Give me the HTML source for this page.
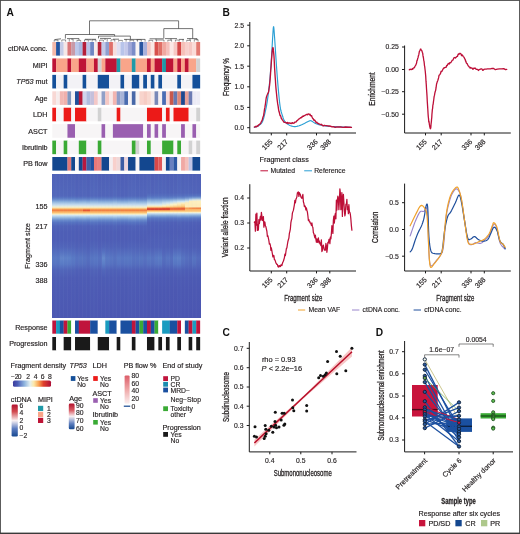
<!DOCTYPE html>
<html><head><meta charset="utf-8"><title>Figure</title>
<style>
html,body{margin:0;padding:0;background:#fff;}
body{width:520px;height:534px;overflow:hidden;font-family:"Liberation Sans",sans-serif;}
svg{display:block;will-change:transform;opacity:0.9999;font-family:"Liberation Sans",sans-serif;}
.t{font-size:7.2px;fill:#231f20;stroke:#231f20;stroke-width:0.18px;}
.s{font-size:6.8px;fill:#231f20;stroke:#231f20;stroke-width:0.15px;}
.b{font-size:10.2px;font-weight:bold;fill:#111;}
</style></head><body>
<svg width="520" height="534" viewBox="0 0 520 534">
<rect width="520" height="534" fill="#fff"/>
<g shape-rendering="auto">
<rect x="52.30" y="42.00" width="3.94" height="13.60" fill="#f4b8a8"/>
<rect x="56.09" y="42.00" width="3.94" height="13.60" fill="#2255a0"/>
<rect x="59.87" y="42.00" width="3.94" height="13.60" fill="#c5cce8"/>
<rect x="63.66" y="42.00" width="3.94" height="13.60" fill="#f5e8e8"/>
<rect x="67.45" y="42.00" width="3.94" height="13.60" fill="#d9787a"/>
<rect x="71.24" y="42.00" width="3.94" height="13.60" fill="#c89aa8"/>
<rect x="75.02" y="42.00" width="3.94" height="13.60" fill="#bcc8ea"/>
<rect x="78.81" y="42.00" width="3.94" height="13.60" fill="#a8b8e0"/>
<rect x="82.60" y="42.00" width="3.94" height="13.60" fill="#b51f3a"/>
<rect x="86.38" y="42.00" width="3.94" height="13.60" fill="#b8c4e8"/>
<rect x="90.17" y="42.00" width="3.94" height="13.60" fill="#6f86c4"/>
<rect x="93.96" y="42.00" width="3.94" height="13.60" fill="#f6ecec"/>
<rect x="97.75" y="42.00" width="3.94" height="13.60" fill="#b8243a"/>
<rect x="101.53" y="42.00" width="3.94" height="13.60" fill="#c4cae8"/>
<rect x="105.32" y="42.00" width="3.94" height="13.60" fill="#8f9fd0"/>
<rect x="109.11" y="42.00" width="3.94" height="13.60" fill="#e0706a"/>
<rect x="112.89" y="42.00" width="3.94" height="13.60" fill="#f5dede"/>
<rect x="116.68" y="42.00" width="3.94" height="13.60" fill="#e0e0f2"/>
<rect x="120.47" y="42.00" width="3.94" height="13.60" fill="#b8c4ea"/>
<rect x="124.26" y="42.00" width="3.94" height="13.60" fill="#c4c8ea"/>
<rect x="128.04" y="42.00" width="3.94" height="13.60" fill="#a0a8d8"/>
<rect x="131.83" y="42.00" width="3.94" height="13.60" fill="#7a8cc8"/>
<rect x="135.62" y="42.00" width="3.94" height="13.60" fill="#f8f4f4"/>
<rect x="139.41" y="42.00" width="3.94" height="13.60" fill="#2a55a0"/>
<rect x="143.19" y="42.00" width="3.94" height="13.60" fill="#a8b0dc"/>
<rect x="146.98" y="42.00" width="3.94" height="13.60" fill="#f4c8c4"/>
<rect x="150.77" y="42.00" width="3.94" height="13.60" fill="#fae8e4"/>
<rect x="154.55" y="42.00" width="3.94" height="13.60" fill="#d8504c"/>
<rect x="158.34" y="42.00" width="3.94" height="13.60" fill="#e07068"/>
<rect x="162.13" y="42.00" width="3.94" height="13.60" fill="#f0a8a0"/>
<rect x="165.92" y="42.00" width="3.94" height="13.60" fill="#f5c0bc"/>
<rect x="169.70" y="42.00" width="3.94" height="13.60" fill="#fbe8e6"/>
<rect x="173.49" y="42.00" width="3.94" height="13.60" fill="#f6c8c4"/>
<rect x="177.28" y="42.00" width="3.94" height="13.60" fill="#d44848"/>
<rect x="181.06" y="42.00" width="3.94" height="13.60" fill="#f6c0b8"/>
<rect x="184.85" y="42.00" width="3.94" height="13.60" fill="#f8d0cc"/>
<rect x="188.64" y="42.00" width="3.94" height="13.60" fill="#f6c8c4"/>
<rect x="192.43" y="42.00" width="3.94" height="13.60" fill="#fadcd8"/>
<rect x="196.21" y="42.00" width="3.94" height="13.60" fill="#e27870"/>
<text x="47.5" y="51.40" text-anchor="end" class="t">ctDNA conc.</text>
<rect x="52.30" y="58.43" width="3.94" height="13.60" fill="#be1436"/>
<rect x="56.09" y="58.43" width="11.51" height="13.60" fill="#f9a58a"/>
<rect x="67.45" y="58.43" width="3.94" height="13.60" fill="#be1436"/>
<rect x="71.24" y="58.43" width="7.72" height="13.60" fill="#f9a58a"/>
<rect x="78.81" y="58.43" width="7.72" height="13.60" fill="#be1436"/>
<rect x="86.38" y="58.43" width="7.72" height="13.60" fill="#f9a58a"/>
<rect x="93.96" y="58.43" width="3.94" height="13.60" fill="#be1436"/>
<rect x="97.75" y="58.43" width="3.94" height="13.60" fill="#d2d2d2"/>
<rect x="101.53" y="58.43" width="3.94" height="13.60" fill="#f9a58a"/>
<rect x="105.32" y="58.43" width="11.51" height="13.60" fill="#be1436"/>
<rect x="116.68" y="58.43" width="3.94" height="13.60" fill="#1f9aa8"/>
<rect x="120.47" y="58.43" width="11.51" height="13.60" fill="#f9a58a"/>
<rect x="131.83" y="58.43" width="3.94" height="13.60" fill="#1f9aa8"/>
<rect x="135.62" y="58.43" width="11.51" height="13.60" fill="#f9a58a"/>
<rect x="146.98" y="58.43" width="3.94" height="13.60" fill="#be1436"/>
<rect x="150.77" y="58.43" width="3.94" height="13.60" fill="#f9a58a"/>
<rect x="154.55" y="58.43" width="7.72" height="13.60" fill="#be1436"/>
<rect x="162.13" y="58.43" width="3.94" height="13.60" fill="#1f9aa8"/>
<rect x="165.92" y="58.43" width="7.72" height="13.60" fill="#be1436"/>
<rect x="173.49" y="58.43" width="3.94" height="13.60" fill="#f9a58a"/>
<rect x="177.28" y="58.43" width="3.94" height="13.60" fill="#be1436"/>
<rect x="181.06" y="58.43" width="3.94" height="13.60" fill="#f9a58a"/>
<rect x="184.85" y="58.43" width="3.94" height="13.60" fill="#be1436"/>
<rect x="188.64" y="58.43" width="7.72" height="13.60" fill="#f9a58a"/>
<rect x="196.21" y="58.43" width="3.94" height="13.60" fill="#d2d2d2"/>
<text x="47.5" y="67.83" text-anchor="end" class="t">MIPI</text>
<rect x="52.30" y="74.86" width="3.94" height="13.60" fill="#15509a"/>
<rect x="56.09" y="74.86" width="7.72" height="13.60" fill="#f3f2f6"/>
<rect x="63.66" y="74.86" width="3.94" height="13.60" fill="#15509a"/>
<rect x="67.45" y="74.86" width="15.30" height="13.60" fill="#f3f2f6"/>
<rect x="82.60" y="74.86" width="3.94" height="13.60" fill="#15509a"/>
<rect x="86.38" y="74.86" width="11.51" height="13.60" fill="#f3f2f6"/>
<rect x="97.75" y="74.86" width="11.51" height="13.60" fill="#15509a"/>
<rect x="109.11" y="74.86" width="11.51" height="13.60" fill="#f3f2f6"/>
<rect x="120.47" y="74.86" width="3.94" height="13.60" fill="#15509a"/>
<rect x="124.26" y="74.86" width="7.72" height="13.60" fill="#f3f2f6"/>
<rect x="131.83" y="74.86" width="7.72" height="13.60" fill="#15509a"/>
<rect x="139.41" y="74.86" width="3.94" height="13.60" fill="#f3f2f6"/>
<rect x="143.19" y="74.86" width="3.94" height="13.60" fill="#15509a"/>
<rect x="146.98" y="74.86" width="3.94" height="13.60" fill="#f3f2f6"/>
<rect x="150.77" y="74.86" width="3.94" height="13.60" fill="#15509a"/>
<rect x="154.55" y="74.86" width="3.94" height="13.60" fill="#f3f2f6"/>
<rect x="158.34" y="74.86" width="3.94" height="13.60" fill="#15509a"/>
<rect x="162.13" y="74.86" width="15.30" height="13.60" fill="#f3f2f6"/>
<rect x="177.28" y="74.86" width="3.94" height="13.60" fill="#15509a"/>
<rect x="181.06" y="74.86" width="11.51" height="13.60" fill="#f3f2f6"/>
<rect x="192.43" y="74.86" width="7.72" height="13.60" fill="#15509a"/>
<text x="47.5" y="84.26" text-anchor="end" class="t"><tspan font-style="italic">TP53</tspan> mut</text>
<rect x="52.30" y="91.29" width="3.94" height="13.60" fill="#f8d8d4"/>
<rect x="56.09" y="91.29" width="3.94" height="13.60" fill="#f6ecec"/>
<rect x="59.87" y="91.29" width="3.94" height="13.60" fill="#f2b8b4"/>
<rect x="63.66" y="91.29" width="3.94" height="13.60" fill="#f0b0ac"/>
<rect x="67.45" y="91.29" width="3.94" height="13.60" fill="#8098c0"/>
<rect x="71.24" y="91.29" width="3.94" height="13.60" fill="#f6f2f4"/>
<rect x="75.02" y="91.29" width="3.94" height="13.60" fill="#1f4f9a"/>
<rect x="78.81" y="91.29" width="3.94" height="13.60" fill="#b81838"/>
<rect x="82.60" y="91.29" width="3.94" height="13.60" fill="#d0d4ec"/>
<rect x="86.38" y="91.29" width="3.94" height="13.60" fill="#b0bce0"/>
<rect x="90.17" y="91.29" width="3.94" height="13.60" fill="#c4c0dc"/>
<rect x="93.96" y="91.29" width="3.94" height="13.60" fill="#f4c8c8"/>
<rect x="97.75" y="91.29" width="3.94" height="13.60" fill="#f4f0f4"/>
<rect x="101.53" y="91.29" width="3.94" height="13.60" fill="#90a0c8"/>
<rect x="105.32" y="91.29" width="3.94" height="13.60" fill="#f6c8c4"/>
<rect x="109.11" y="91.29" width="3.94" height="13.60" fill="#f8e8e8"/>
<rect x="112.89" y="91.29" width="3.94" height="13.60" fill="#f2b4b0"/>
<rect x="116.68" y="91.29" width="3.94" height="13.60" fill="#8c9cc8"/>
<rect x="120.47" y="91.29" width="3.94" height="13.60" fill="#a8b4d8"/>
<rect x="124.26" y="91.29" width="3.94" height="13.60" fill="#4a6cb0"/>
<rect x="128.04" y="91.29" width="3.94" height="13.60" fill="#f4f2f6"/>
<rect x="131.83" y="91.29" width="3.94" height="13.60" fill="#4868a8"/>
<rect x="135.62" y="91.29" width="3.94" height="13.60" fill="#f6f2f2"/>
<rect x="139.41" y="91.29" width="3.94" height="13.60" fill="#f8d4cc"/>
<rect x="143.19" y="91.29" width="3.94" height="13.60" fill="#f6ccc4"/>
<rect x="146.98" y="91.29" width="3.94" height="13.60" fill="#f8d8d0"/>
<rect x="150.77" y="91.29" width="3.94" height="13.60" fill="#f6eaea"/>
<rect x="154.55" y="91.29" width="3.94" height="13.60" fill="#7888b8"/>
<rect x="158.34" y="91.29" width="3.94" height="13.60" fill="#f6f0f2"/>
<rect x="162.13" y="91.29" width="3.94" height="13.60" fill="#4a6cb4"/>
<rect x="165.92" y="91.29" width="3.94" height="13.60" fill="#f8d8d8"/>
<rect x="169.70" y="91.29" width="3.94" height="13.60" fill="#c8584c"/>
<rect x="173.49" y="91.29" width="3.94" height="13.60" fill="#6878b0"/>
<rect x="177.28" y="91.29" width="3.94" height="13.60" fill="#e08878"/>
<rect x="181.06" y="91.29" width="3.94" height="13.60" fill="#1c4890"/>
<rect x="184.85" y="91.29" width="3.94" height="13.60" fill="#e8a098"/>
<rect x="188.64" y="91.29" width="3.94" height="13.60" fill="#6c7cb4"/>
<rect x="192.43" y="91.29" width="3.94" height="13.60" fill="#ecebf6"/>
<rect x="196.21" y="91.29" width="3.94" height="13.60" fill="#eeedf6"/>
<text x="47.5" y="100.69" text-anchor="end" class="t">Age</text>
<rect x="52.30" y="107.72" width="3.94" height="13.60" fill="#ec1a18"/>
<rect x="56.09" y="107.72" width="7.72" height="13.60" fill="#f7f5f6"/>
<rect x="63.66" y="107.72" width="7.72" height="13.60" fill="#ec1a18"/>
<rect x="71.24" y="107.72" width="3.94" height="13.60" fill="#f7f5f6"/>
<rect x="75.02" y="107.72" width="11.51" height="13.60" fill="#ec1a18"/>
<rect x="86.38" y="107.72" width="11.51" height="13.60" fill="#f7f5f6"/>
<rect x="97.75" y="107.72" width="3.94" height="13.60" fill="#d2d2d2"/>
<rect x="101.53" y="107.72" width="15.30" height="13.60" fill="#f7f5f6"/>
<rect x="116.68" y="107.72" width="3.94" height="13.60" fill="#ec1a18"/>
<rect x="120.47" y="107.72" width="26.66" height="13.60" fill="#f7f5f6"/>
<rect x="146.98" y="107.72" width="15.30" height="13.60" fill="#ec1a18"/>
<rect x="162.13" y="107.72" width="3.94" height="13.60" fill="#f7f5f6"/>
<rect x="165.92" y="107.72" width="3.94" height="13.60" fill="#ec1a18"/>
<rect x="169.70" y="107.72" width="3.94" height="13.60" fill="#f7f5f6"/>
<rect x="173.49" y="107.72" width="15.30" height="13.60" fill="#ec1a18"/>
<rect x="188.64" y="107.72" width="7.72" height="13.60" fill="#f7f5f6"/>
<rect x="196.21" y="107.72" width="3.94" height="13.60" fill="#d2d2d2"/>
<text x="47.5" y="117.12" text-anchor="end" class="t">LDH</text>
<rect x="52.30" y="124.15" width="15.30" height="13.60" fill="#f7f5f6"/>
<rect x="67.45" y="124.15" width="7.72" height="13.60" fill="#9a5fb0"/>
<rect x="75.02" y="124.15" width="26.66" height="13.60" fill="#f7f5f6"/>
<rect x="101.53" y="124.15" width="3.94" height="13.60" fill="#9a5fb0"/>
<rect x="105.32" y="124.15" width="7.72" height="13.60" fill="#f7f5f6"/>
<rect x="112.89" y="124.15" width="30.45" height="13.60" fill="#9a5fb0"/>
<rect x="143.19" y="124.15" width="3.94" height="13.60" fill="#f7f5f6"/>
<rect x="146.98" y="124.15" width="3.94" height="13.60" fill="#9a5fb0"/>
<rect x="150.77" y="124.15" width="3.94" height="13.60" fill="#f7f5f6"/>
<rect x="154.55" y="124.15" width="3.94" height="13.60" fill="#9a5fb0"/>
<rect x="158.34" y="124.15" width="3.94" height="13.60" fill="#f7f5f6"/>
<rect x="162.13" y="124.15" width="3.94" height="13.60" fill="#9a5fb0"/>
<rect x="165.92" y="124.15" width="15.30" height="13.60" fill="#f7f5f6"/>
<rect x="181.06" y="124.15" width="3.94" height="13.60" fill="#9a5fb0"/>
<rect x="184.85" y="124.15" width="7.72" height="13.60" fill="#f7f5f6"/>
<rect x="192.43" y="124.15" width="3.94" height="13.60" fill="#9a5fb0"/>
<rect x="196.21" y="124.15" width="3.94" height="13.60" fill="#f7f5f6"/>
<text x="47.5" y="133.55" text-anchor="end" class="t">ASCT</text>
<rect x="52.30" y="140.58" width="3.94" height="13.60" fill="#3aaa35"/>
<rect x="56.09" y="140.58" width="7.72" height="13.60" fill="#f7f5f6"/>
<rect x="63.66" y="140.58" width="3.94" height="13.60" fill="#3aaa35"/>
<rect x="67.45" y="140.58" width="11.51" height="13.60" fill="#f7f5f6"/>
<rect x="78.81" y="140.58" width="7.72" height="13.60" fill="#3aaa35"/>
<rect x="86.38" y="140.58" width="11.51" height="13.60" fill="#f7f5f6"/>
<rect x="97.75" y="140.58" width="3.94" height="13.60" fill="#3aaa35"/>
<rect x="101.53" y="140.58" width="30.45" height="13.60" fill="#f7f5f6"/>
<rect x="131.83" y="140.58" width="3.94" height="13.60" fill="#3aaa35"/>
<rect x="135.62" y="140.58" width="3.94" height="13.60" fill="#d2d2d2"/>
<rect x="139.41" y="140.58" width="7.72" height="13.60" fill="#f7f5f6"/>
<rect x="146.98" y="140.58" width="3.94" height="13.60" fill="#3aaa35"/>
<rect x="150.77" y="140.58" width="11.51" height="13.60" fill="#f7f5f6"/>
<rect x="162.13" y="140.58" width="11.51" height="13.60" fill="#3aaa35"/>
<rect x="173.49" y="140.58" width="3.94" height="13.60" fill="#f7f5f6"/>
<rect x="177.28" y="140.58" width="3.94" height="13.60" fill="#3aaa35"/>
<rect x="181.06" y="140.58" width="7.72" height="13.60" fill="#f7f5f6"/>
<rect x="188.64" y="140.58" width="3.94" height="13.60" fill="#d2d2d2"/>
<rect x="192.43" y="140.58" width="3.94" height="13.60" fill="#f7f5f6"/>
<rect x="196.21" y="140.58" width="3.94" height="13.60" fill="#d2d2d2"/>
<text x="47.5" y="149.98" text-anchor="end" class="t">Ibrutinib</text>
<rect x="52.30" y="157.01" width="15.30" height="13.60" fill="#13478f"/>
<rect x="67.45" y="157.01" width="3.94" height="13.60" fill="#e07878"/>
<rect x="71.24" y="157.01" width="3.94" height="13.60" fill="#13478f"/>
<rect x="75.02" y="157.01" width="3.94" height="13.60" fill="#f6f2f4"/>
<rect x="78.81" y="157.01" width="3.94" height="13.60" fill="#13478f"/>
<rect x="82.60" y="157.01" width="3.94" height="13.60" fill="#b81840"/>
<rect x="86.38" y="157.01" width="3.94" height="13.60" fill="#4060a8"/>
<rect x="90.17" y="157.01" width="3.94" height="13.60" fill="#2050a0"/>
<rect x="93.96" y="157.01" width="3.94" height="13.60" fill="#e87878"/>
<rect x="97.75" y="157.01" width="3.94" height="13.60" fill="#e88080"/>
<rect x="101.53" y="157.01" width="7.72" height="13.60" fill="#13478f"/>
<rect x="109.11" y="157.01" width="3.94" height="13.60" fill="#f4eef0"/>
<rect x="112.89" y="157.01" width="3.94" height="13.60" fill="#f8d0cc"/>
<rect x="116.68" y="157.01" width="3.94" height="13.60" fill="#f0d8d8"/>
<rect x="120.47" y="157.01" width="3.94" height="13.60" fill="#3c5ca4"/>
<rect x="124.26" y="157.01" width="3.94" height="13.60" fill="#ecd4dc"/>
<rect x="128.04" y="157.01" width="7.72" height="13.60" fill="#13478f"/>
<rect x="135.62" y="157.01" width="3.94" height="13.60" fill="#f6f4f6"/>
<rect x="139.41" y="157.01" width="15.30" height="13.60" fill="#13478f"/>
<rect x="154.55" y="157.01" width="3.94" height="13.60" fill="#d84848"/>
<rect x="158.34" y="157.01" width="3.94" height="13.60" fill="#e05858"/>
<rect x="162.13" y="157.01" width="3.94" height="13.60" fill="#f4f0f0"/>
<rect x="165.92" y="157.01" width="3.94" height="13.60" fill="#13478f"/>
<rect x="169.70" y="157.01" width="3.94" height="13.60" fill="#6880c0"/>
<rect x="173.49" y="157.01" width="3.94" height="13.60" fill="#2c58a4"/>
<rect x="177.28" y="157.01" width="3.94" height="13.60" fill="#f6f4f4"/>
<rect x="181.06" y="157.01" width="3.94" height="13.60" fill="#f0a8a4"/>
<rect x="184.85" y="157.01" width="3.94" height="13.60" fill="#f4c0bc"/>
<rect x="188.64" y="157.01" width="3.94" height="13.60" fill="#c0c4e4"/>
<rect x="192.43" y="157.01" width="7.72" height="13.60" fill="#13478f"/>
<text x="47.5" y="166.41" text-anchor="end" class="t">PB flow</text>
</g>
<defs>
<linearGradient id="hg1" x1="0" y1="173.5" x2="0" y2="317.5" gradientUnits="userSpaceOnUse">
<stop offset="0.0000" stop-color="#5063b8"/>
<stop offset="0.0799" stop-color="#5165ba"/>
<stop offset="0.1354" stop-color="#5267bb"/>
<stop offset="0.1562" stop-color="#5268bb"/>
<stop offset="0.1701" stop-color="#5877c3"/>
<stop offset="0.1840" stop-color="#6f92d0"/>
<stop offset="0.1944" stop-color="#89aedc"/>
<stop offset="0.2049" stop-color="#a6c5e5"/>
<stop offset="0.2153" stop-color="#bed7ed"/>
<stop offset="0.2257" stop-color="#dbe8e6"/>
<stop offset="0.2326" stop-color="#efeed2"/>
<stop offset="0.2396" stop-color="#fde2a7"/>
<stop offset="0.2444" stop-color="#fbbb6e"/>
<stop offset="0.2486" stop-color="#f69b53"/>
<stop offset="0.2528" stop-color="#f48c48"/>
<stop offset="0.2563" stop-color="#f07d42"/>
<stop offset="0.2604" stop-color="#f6954f"/>
<stop offset="0.2646" stop-color="#f8a95f"/>
<stop offset="0.2694" stop-color="#fbb86b"/>
<stop offset="0.2743" stop-color="#fdc878"/>
<stop offset="0.2799" stop-color="#fde5ad"/>
<stop offset="0.2854" stop-color="#ededd4"/>
<stop offset="0.2917" stop-color="#cce2f1"/>
<stop offset="0.2986" stop-color="#b4d0ea"/>
<stop offset="0.3090" stop-color="#8db2dd"/>
<stop offset="0.3229" stop-color="#6b8ece"/>
<stop offset="0.3403" stop-color="#5774c2"/>
<stop offset="0.3646" stop-color="#5064b9"/>
<stop offset="0.4062" stop-color="#4e5eb6"/>
<stop offset="0.4618" stop-color="#4e5eb6"/>
<stop offset="0.5104" stop-color="#5165ba"/>
<stop offset="0.5451" stop-color="#546ebe"/>
<stop offset="0.5868" stop-color="#5979c4"/>
<stop offset="0.6285" stop-color="#5774c2"/>
<stop offset="0.6701" stop-color="#5063b9"/>
<stop offset="0.7257" stop-color="#4e5db5"/>
<stop offset="0.8090" stop-color="#4d5bb4"/>
<stop offset="1.0000" stop-color="#4c58b2"/>
</linearGradient>
<linearGradient id="hg2" x1="0" y1="173.5" x2="0" y2="317.5" gradientUnits="userSpaceOnUse">
<stop offset="0.0000" stop-color="#5062b8"/>
<stop offset="0.0799" stop-color="#5165ba"/>
<stop offset="0.1354" stop-color="#5267bb"/>
<stop offset="0.1562" stop-color="#5267bb"/>
<stop offset="0.1701" stop-color="#5876c3"/>
<stop offset="0.1840" stop-color="#6e92cf"/>
<stop offset="0.1944" stop-color="#89aedb"/>
<stop offset="0.2049" stop-color="#a5c4e5"/>
<stop offset="0.2153" stop-color="#bed7ed"/>
<stop offset="0.2257" stop-color="#dbe8e6"/>
<stop offset="0.2326" stop-color="#efeed2"/>
<stop offset="0.2396" stop-color="#fde2a7"/>
<stop offset="0.2444" stop-color="#fbbb6e"/>
<stop offset="0.2486" stop-color="#f69b53"/>
<stop offset="0.2528" stop-color="#f48c48"/>
<stop offset="0.2563" stop-color="#f07d42"/>
<stop offset="0.2604" stop-color="#f6954f"/>
<stop offset="0.2646" stop-color="#f8a95f"/>
<stop offset="0.2694" stop-color="#fbb86b"/>
<stop offset="0.2743" stop-color="#fdc878"/>
<stop offset="0.2799" stop-color="#fde5ad"/>
<stop offset="0.2854" stop-color="#ededd4"/>
<stop offset="0.2917" stop-color="#cce2f1"/>
<stop offset="0.2986" stop-color="#b3cfe9"/>
<stop offset="0.3090" stop-color="#8db2dd"/>
<stop offset="0.3229" stop-color="#6a8dcd"/>
<stop offset="0.3403" stop-color="#5774c1"/>
<stop offset="0.3646" stop-color="#5063b9"/>
<stop offset="0.4062" stop-color="#4e5eb6"/>
<stop offset="0.4618" stop-color="#4e5eb6"/>
<stop offset="0.5104" stop-color="#5164b9"/>
<stop offset="0.5451" stop-color="#546dbe"/>
<stop offset="0.5868" stop-color="#5878c4"/>
<stop offset="0.6285" stop-color="#5673c1"/>
<stop offset="0.6701" stop-color="#5063b8"/>
<stop offset="0.7257" stop-color="#4e5db5"/>
<stop offset="0.8090" stop-color="#4d5bb4"/>
<stop offset="1.0000" stop-color="#4c58b2"/>
</linearGradient>
<linearGradient id="hg3" x1="0" y1="173.5" x2="0" y2="317.5" gradientUnits="userSpaceOnUse">
<stop offset="0.0000" stop-color="#5062b8"/>
<stop offset="0.0799" stop-color="#5164b9"/>
<stop offset="0.1354" stop-color="#5166ba"/>
<stop offset="0.1562" stop-color="#5267bb"/>
<stop offset="0.1701" stop-color="#5876c3"/>
<stop offset="0.1840" stop-color="#6d91cf"/>
<stop offset="0.1944" stop-color="#88addb"/>
<stop offset="0.2049" stop-color="#a4c4e5"/>
<stop offset="0.2153" stop-color="#bed7ed"/>
<stop offset="0.2257" stop-color="#dbe8e6"/>
<stop offset="0.2326" stop-color="#efeed2"/>
<stop offset="0.2396" stop-color="#fde2a7"/>
<stop offset="0.2444" stop-color="#fbbb6e"/>
<stop offset="0.2486" stop-color="#f69b53"/>
<stop offset="0.2528" stop-color="#f48c48"/>
<stop offset="0.2563" stop-color="#f07d42"/>
<stop offset="0.2604" stop-color="#f6954f"/>
<stop offset="0.2646" stop-color="#f8a95f"/>
<stop offset="0.2694" stop-color="#fbb86b"/>
<stop offset="0.2743" stop-color="#fdc878"/>
<stop offset="0.2799" stop-color="#fde5ad"/>
<stop offset="0.2854" stop-color="#ededd4"/>
<stop offset="0.2917" stop-color="#cce2f1"/>
<stop offset="0.2986" stop-color="#b2cfe9"/>
<stop offset="0.3090" stop-color="#8cb0dc"/>
<stop offset="0.3229" stop-color="#698ccd"/>
<stop offset="0.3403" stop-color="#5673c1"/>
<stop offset="0.3646" stop-color="#5063b8"/>
<stop offset="0.4062" stop-color="#4e5eb6"/>
<stop offset="0.4618" stop-color="#4e5eb6"/>
<stop offset="0.5104" stop-color="#5165ba"/>
<stop offset="0.5451" stop-color="#5671c0"/>
<stop offset="0.5868" stop-color="#6183c9"/>
<stop offset="0.6285" stop-color="#597ac5"/>
<stop offset="0.6701" stop-color="#5166ba"/>
<stop offset="0.7257" stop-color="#4e5db5"/>
<stop offset="0.8090" stop-color="#4d5bb4"/>
<stop offset="1.0000" stop-color="#4c58b2"/>
</linearGradient>
<linearGradient id="hg4" x1="0" y1="173.5" x2="0" y2="317.5" gradientUnits="userSpaceOnUse">
<stop offset="0.0000" stop-color="#5062b8"/>
<stop offset="0.0799" stop-color="#5164b9"/>
<stop offset="0.1354" stop-color="#5166ba"/>
<stop offset="0.1562" stop-color="#5267bb"/>
<stop offset="0.1701" stop-color="#5876c3"/>
<stop offset="0.1840" stop-color="#6e91cf"/>
<stop offset="0.1944" stop-color="#88addb"/>
<stop offset="0.2049" stop-color="#a4c4e5"/>
<stop offset="0.2153" stop-color="#bed7ed"/>
<stop offset="0.2257" stop-color="#dbe8e6"/>
<stop offset="0.2326" stop-color="#efeed2"/>
<stop offset="0.2396" stop-color="#fde2a7"/>
<stop offset="0.2444" stop-color="#fbbb6e"/>
<stop offset="0.2486" stop-color="#f69b53"/>
<stop offset="0.2528" stop-color="#f48c48"/>
<stop offset="0.2563" stop-color="#f07d42"/>
<stop offset="0.2604" stop-color="#f6954f"/>
<stop offset="0.2646" stop-color="#f8a95f"/>
<stop offset="0.2694" stop-color="#fbb86b"/>
<stop offset="0.2743" stop-color="#fdc878"/>
<stop offset="0.2799" stop-color="#fde5ad"/>
<stop offset="0.2854" stop-color="#ededd4"/>
<stop offset="0.2917" stop-color="#cce2f1"/>
<stop offset="0.2986" stop-color="#b2cfe9"/>
<stop offset="0.3090" stop-color="#8cb1dd"/>
<stop offset="0.3229" stop-color="#6a8ccd"/>
<stop offset="0.3403" stop-color="#5673c1"/>
<stop offset="0.3646" stop-color="#5063b8"/>
<stop offset="0.4062" stop-color="#4e5eb6"/>
<stop offset="0.4618" stop-color="#4e5eb6"/>
<stop offset="0.5104" stop-color="#5165ba"/>
<stop offset="0.5451" stop-color="#5570c0"/>
<stop offset="0.5868" stop-color="#5e80c8"/>
<stop offset="0.6285" stop-color="#5979c4"/>
<stop offset="0.6701" stop-color="#5165ba"/>
<stop offset="0.7257" stop-color="#4e5db5"/>
<stop offset="0.8090" stop-color="#4d5bb4"/>
<stop offset="1.0000" stop-color="#4c58b2"/>
</linearGradient>
<linearGradient id="hg5" x1="0" y1="173.5" x2="0" y2="317.5" gradientUnits="userSpaceOnUse">
<stop offset="0.0000" stop-color="#4f61b8"/>
<stop offset="0.0799" stop-color="#5064b9"/>
<stop offset="0.1354" stop-color="#5165ba"/>
<stop offset="0.1562" stop-color="#5166ba"/>
<stop offset="0.1701" stop-color="#5775c2"/>
<stop offset="0.1840" stop-color="#6c8fce"/>
<stop offset="0.1944" stop-color="#87abda"/>
<stop offset="0.2049" stop-color="#a2c3e4"/>
<stop offset="0.2153" stop-color="#bed7ed"/>
<stop offset="0.2257" stop-color="#dbe8e6"/>
<stop offset="0.2326" stop-color="#efeed2"/>
<stop offset="0.2396" stop-color="#fde2a7"/>
<stop offset="0.2444" stop-color="#fbbb6e"/>
<stop offset="0.2486" stop-color="#f69b53"/>
<stop offset="0.2528" stop-color="#f48c48"/>
<stop offset="0.2563" stop-color="#f07d42"/>
<stop offset="0.2604" stop-color="#f6954f"/>
<stop offset="0.2646" stop-color="#f8a95f"/>
<stop offset="0.2694" stop-color="#fbb86b"/>
<stop offset="0.2743" stop-color="#fdc878"/>
<stop offset="0.2799" stop-color="#fde5ad"/>
<stop offset="0.2854" stop-color="#ededd4"/>
<stop offset="0.2917" stop-color="#cce2f1"/>
<stop offset="0.2986" stop-color="#b1cee9"/>
<stop offset="0.3090" stop-color="#8aafdc"/>
<stop offset="0.3229" stop-color="#688bcc"/>
<stop offset="0.3403" stop-color="#5672c1"/>
<stop offset="0.3646" stop-color="#5062b8"/>
<stop offset="0.4062" stop-color="#4e5eb6"/>
<stop offset="0.4618" stop-color="#4e5eb6"/>
<stop offset="0.5104" stop-color="#5164b9"/>
<stop offset="0.5451" stop-color="#5570bf"/>
<stop offset="0.5868" stop-color="#5d80c8"/>
<stop offset="0.6285" stop-color="#5978c4"/>
<stop offset="0.6701" stop-color="#5164b9"/>
<stop offset="0.7257" stop-color="#4e5cb5"/>
<stop offset="0.8090" stop-color="#4d5ab4"/>
<stop offset="1.0000" stop-color="#4c58b2"/>
</linearGradient>
<linearGradient id="hg6" x1="0" y1="173.5" x2="0" y2="317.5" gradientUnits="userSpaceOnUse">
<stop offset="0.0000" stop-color="#5062b8"/>
<stop offset="0.0799" stop-color="#5164b9"/>
<stop offset="0.1354" stop-color="#5166ba"/>
<stop offset="0.1562" stop-color="#5267bb"/>
<stop offset="0.1701" stop-color="#5776c3"/>
<stop offset="0.1840" stop-color="#6d90cf"/>
<stop offset="0.1944" stop-color="#88acdb"/>
<stop offset="0.2049" stop-color="#a4c3e4"/>
<stop offset="0.2153" stop-color="#bed7ed"/>
<stop offset="0.2257" stop-color="#dbe8e6"/>
<stop offset="0.2326" stop-color="#efeed2"/>
<stop offset="0.2396" stop-color="#fde2a7"/>
<stop offset="0.2444" stop-color="#fbbb6e"/>
<stop offset="0.2486" stop-color="#f69b53"/>
<stop offset="0.2528" stop-color="#f48c48"/>
<stop offset="0.2563" stop-color="#f07d42"/>
<stop offset="0.2604" stop-color="#f6954f"/>
<stop offset="0.2646" stop-color="#f8a95f"/>
<stop offset="0.2694" stop-color="#fbb86b"/>
<stop offset="0.2743" stop-color="#fdc878"/>
<stop offset="0.2799" stop-color="#fde5ad"/>
<stop offset="0.2854" stop-color="#ededd4"/>
<stop offset="0.2917" stop-color="#cce2f1"/>
<stop offset="0.2986" stop-color="#b2cee9"/>
<stop offset="0.3090" stop-color="#8bb0dc"/>
<stop offset="0.3229" stop-color="#698ccd"/>
<stop offset="0.3403" stop-color="#5673c1"/>
<stop offset="0.3646" stop-color="#5062b8"/>
<stop offset="0.4062" stop-color="#4e5eb6"/>
<stop offset="0.4618" stop-color="#4e5eb6"/>
<stop offset="0.5104" stop-color="#5164b9"/>
<stop offset="0.5451" stop-color="#546dbe"/>
<stop offset="0.5868" stop-color="#5979c4"/>
<stop offset="0.6285" stop-color="#5774c2"/>
<stop offset="0.6701" stop-color="#5063b8"/>
<stop offset="0.7257" stop-color="#4e5cb5"/>
<stop offset="0.8090" stop-color="#4d5bb4"/>
<stop offset="1.0000" stop-color="#4c58b2"/>
</linearGradient>
<linearGradient id="hg7" x1="0" y1="173.5" x2="0" y2="317.5" gradientUnits="userSpaceOnUse">
<stop offset="0.0000" stop-color="#4f60b7"/>
<stop offset="0.0799" stop-color="#5062b8"/>
<stop offset="0.1354" stop-color="#5063b9"/>
<stop offset="0.1562" stop-color="#5164b9"/>
<stop offset="0.1701" stop-color="#5673c1"/>
<stop offset="0.1840" stop-color="#698ccd"/>
<stop offset="0.1944" stop-color="#83a8d9"/>
<stop offset="0.2049" stop-color="#9fc0e3"/>
<stop offset="0.2153" stop-color="#bed7ed"/>
<stop offset="0.2257" stop-color="#dbe8e6"/>
<stop offset="0.2326" stop-color="#efeed2"/>
<stop offset="0.2396" stop-color="#fde2a7"/>
<stop offset="0.2444" stop-color="#fbbb6e"/>
<stop offset="0.2486" stop-color="#f69b53"/>
<stop offset="0.2528" stop-color="#f48c48"/>
<stop offset="0.2563" stop-color="#f07d42"/>
<stop offset="0.2604" stop-color="#f6954f"/>
<stop offset="0.2646" stop-color="#f8a95f"/>
<stop offset="0.2694" stop-color="#fbb86b"/>
<stop offset="0.2743" stop-color="#fdc878"/>
<stop offset="0.2799" stop-color="#fde5ad"/>
<stop offset="0.2854" stop-color="#ededd4"/>
<stop offset="0.2917" stop-color="#cce2f1"/>
<stop offset="0.2986" stop-color="#adcbe8"/>
<stop offset="0.3090" stop-color="#87acda"/>
<stop offset="0.3229" stop-color="#6588cb"/>
<stop offset="0.3403" stop-color="#5570c0"/>
<stop offset="0.3646" stop-color="#4f60b7"/>
<stop offset="0.4062" stop-color="#4e5db5"/>
<stop offset="0.4618" stop-color="#4e5db5"/>
<stop offset="0.5104" stop-color="#4f61b7"/>
<stop offset="0.5451" stop-color="#5269bc"/>
<stop offset="0.5868" stop-color="#5673c1"/>
<stop offset="0.6285" stop-color="#556ebf"/>
<stop offset="0.6701" stop-color="#4f60b7"/>
<stop offset="0.7257" stop-color="#4d5bb4"/>
<stop offset="0.8090" stop-color="#4c5ab3"/>
<stop offset="1.0000" stop-color="#4b57b1"/>
</linearGradient>
<linearGradient id="hg8" x1="0" y1="173.5" x2="0" y2="317.5" gradientUnits="userSpaceOnUse">
<stop offset="0.0000" stop-color="#4f61b7"/>
<stop offset="0.0799" stop-color="#5063b9"/>
<stop offset="0.1354" stop-color="#5165ba"/>
<stop offset="0.1562" stop-color="#5165ba"/>
<stop offset="0.1701" stop-color="#5774c2"/>
<stop offset="0.1840" stop-color="#6b8ece"/>
<stop offset="0.1944" stop-color="#86aada"/>
<stop offset="0.2049" stop-color="#a2c2e4"/>
<stop offset="0.2153" stop-color="#bed7ed"/>
<stop offset="0.2257" stop-color="#dbe8e6"/>
<stop offset="0.2326" stop-color="#efeed2"/>
<stop offset="0.2396" stop-color="#fde2a7"/>
<stop offset="0.2444" stop-color="#fbbb6e"/>
<stop offset="0.2486" stop-color="#f69b53"/>
<stop offset="0.2528" stop-color="#f48c48"/>
<stop offset="0.2563" stop-color="#f07d42"/>
<stop offset="0.2604" stop-color="#f6954f"/>
<stop offset="0.2646" stop-color="#f8a95f"/>
<stop offset="0.2694" stop-color="#fbb86b"/>
<stop offset="0.2743" stop-color="#fdc878"/>
<stop offset="0.2799" stop-color="#fde5ad"/>
<stop offset="0.2854" stop-color="#ededd4"/>
<stop offset="0.2917" stop-color="#cce2f1"/>
<stop offset="0.2986" stop-color="#b0cde8"/>
<stop offset="0.3090" stop-color="#8aaedc"/>
<stop offset="0.3229" stop-color="#688acc"/>
<stop offset="0.3403" stop-color="#5672c0"/>
<stop offset="0.3646" stop-color="#5061b8"/>
<stop offset="0.4062" stop-color="#4e5eb6"/>
<stop offset="0.4618" stop-color="#4e5db5"/>
<stop offset="0.5104" stop-color="#5062b8"/>
<stop offset="0.5451" stop-color="#536abc"/>
<stop offset="0.5868" stop-color="#5775c2"/>
<stop offset="0.6285" stop-color="#5570bf"/>
<stop offset="0.6701" stop-color="#4f60b7"/>
<stop offset="0.7257" stop-color="#4d5cb5"/>
<stop offset="0.8090" stop-color="#4d5ab4"/>
<stop offset="1.0000" stop-color="#4c57b2"/>
</linearGradient>
<linearGradient id="hg9" x1="0" y1="173.5" x2="0" y2="317.5" gradientUnits="userSpaceOnUse">
<stop offset="0.0000" stop-color="#5062b8"/>
<stop offset="0.0799" stop-color="#5165b9"/>
<stop offset="0.1354" stop-color="#5266ba"/>
<stop offset="0.1562" stop-color="#5267bb"/>
<stop offset="0.1701" stop-color="#5876c3"/>
<stop offset="0.1840" stop-color="#6e91cf"/>
<stop offset="0.1944" stop-color="#88addb"/>
<stop offset="0.2049" stop-color="#a4c4e5"/>
<stop offset="0.2153" stop-color="#bed7ed"/>
<stop offset="0.2257" stop-color="#dbe8e6"/>
<stop offset="0.2326" stop-color="#efeed2"/>
<stop offset="0.2396" stop-color="#fde2a7"/>
<stop offset="0.2444" stop-color="#fab468"/>
<stop offset="0.2486" stop-color="#f48a46"/>
<stop offset="0.2528" stop-color="#ea6a3b"/>
<stop offset="0.2563" stop-color="#e24f32"/>
<stop offset="0.2604" stop-color="#ef7840"/>
<stop offset="0.2646" stop-color="#f69a53"/>
<stop offset="0.2694" stop-color="#fab468"/>
<stop offset="0.2743" stop-color="#fdc878"/>
<stop offset="0.2799" stop-color="#fde5ad"/>
<stop offset="0.2854" stop-color="#ededd4"/>
<stop offset="0.2917" stop-color="#cce2f1"/>
<stop offset="0.2986" stop-color="#b3cfe9"/>
<stop offset="0.3090" stop-color="#8cb1dd"/>
<stop offset="0.3229" stop-color="#6a8dcd"/>
<stop offset="0.3403" stop-color="#5773c1"/>
<stop offset="0.3646" stop-color="#5063b9"/>
<stop offset="0.4062" stop-color="#4e5eb6"/>
<stop offset="0.4618" stop-color="#4e5eb6"/>
<stop offset="0.5104" stop-color="#5063b9"/>
<stop offset="0.5451" stop-color="#536abc"/>
<stop offset="0.5868" stop-color="#5773c1"/>
<stop offset="0.6285" stop-color="#556fbf"/>
<stop offset="0.6701" stop-color="#4f61b7"/>
<stop offset="0.7257" stop-color="#4e5cb5"/>
<stop offset="0.8090" stop-color="#4d5bb4"/>
<stop offset="1.0000" stop-color="#4c58b2"/>
</linearGradient>
<linearGradient id="hg10" x1="0" y1="173.5" x2="0" y2="317.5" gradientUnits="userSpaceOnUse">
<stop offset="0.0000" stop-color="#4f60b7"/>
<stop offset="0.0799" stop-color="#5062b8"/>
<stop offset="0.1354" stop-color="#5064b9"/>
<stop offset="0.1562" stop-color="#5164b9"/>
<stop offset="0.1701" stop-color="#5773c1"/>
<stop offset="0.1840" stop-color="#6a8ccd"/>
<stop offset="0.1944" stop-color="#84a8d9"/>
<stop offset="0.2049" stop-color="#9fc0e3"/>
<stop offset="0.2153" stop-color="#bed7ed"/>
<stop offset="0.2257" stop-color="#dbe8e6"/>
<stop offset="0.2326" stop-color="#efeed2"/>
<stop offset="0.2396" stop-color="#fde2a7"/>
<stop offset="0.2444" stop-color="#fab468"/>
<stop offset="0.2486" stop-color="#f48a46"/>
<stop offset="0.2528" stop-color="#ea6a3b"/>
<stop offset="0.2563" stop-color="#e24f32"/>
<stop offset="0.2604" stop-color="#ef7840"/>
<stop offset="0.2646" stop-color="#f69a53"/>
<stop offset="0.2694" stop-color="#fab468"/>
<stop offset="0.2743" stop-color="#fdc878"/>
<stop offset="0.2799" stop-color="#fde5ad"/>
<stop offset="0.2854" stop-color="#ededd4"/>
<stop offset="0.2917" stop-color="#cce2f1"/>
<stop offset="0.2986" stop-color="#aecbe8"/>
<stop offset="0.3090" stop-color="#88acdb"/>
<stop offset="0.3229" stop-color="#6688cb"/>
<stop offset="0.3403" stop-color="#5570c0"/>
<stop offset="0.3646" stop-color="#4f60b7"/>
<stop offset="0.4062" stop-color="#4e5db5"/>
<stop offset="0.4618" stop-color="#4e5db5"/>
<stop offset="0.5104" stop-color="#4f60b7"/>
<stop offset="0.5451" stop-color="#5166ba"/>
<stop offset="0.5868" stop-color="#546ebe"/>
<stop offset="0.6285" stop-color="#536abc"/>
<stop offset="0.6701" stop-color="#4f5fb6"/>
<stop offset="0.7257" stop-color="#4d5bb4"/>
<stop offset="0.8090" stop-color="#4d5ab3"/>
<stop offset="1.0000" stop-color="#4b57b2"/>
</linearGradient>
<linearGradient id="hg11" x1="0" y1="173.5" x2="0" y2="317.5" gradientUnits="userSpaceOnUse">
<stop offset="0.0000" stop-color="#5063b8"/>
<stop offset="0.0799" stop-color="#5165ba"/>
<stop offset="0.1354" stop-color="#5267bb"/>
<stop offset="0.1562" stop-color="#5267bb"/>
<stop offset="0.1701" stop-color="#5876c3"/>
<stop offset="0.1840" stop-color="#6f92cf"/>
<stop offset="0.1944" stop-color="#89aedb"/>
<stop offset="0.2049" stop-color="#a5c5e5"/>
<stop offset="0.2153" stop-color="#bed7ed"/>
<stop offset="0.2257" stop-color="#dbe8e6"/>
<stop offset="0.2326" stop-color="#efeed2"/>
<stop offset="0.2396" stop-color="#fde2a7"/>
<stop offset="0.2444" stop-color="#fbbb6e"/>
<stop offset="0.2486" stop-color="#f69b53"/>
<stop offset="0.2528" stop-color="#f48c48"/>
<stop offset="0.2563" stop-color="#f07d42"/>
<stop offset="0.2604" stop-color="#f6954f"/>
<stop offset="0.2646" stop-color="#f8a95f"/>
<stop offset="0.2694" stop-color="#fbb86b"/>
<stop offset="0.2743" stop-color="#fdc878"/>
<stop offset="0.2799" stop-color="#fde5ad"/>
<stop offset="0.2854" stop-color="#ededd4"/>
<stop offset="0.2917" stop-color="#cce2f1"/>
<stop offset="0.2986" stop-color="#b4d0e9"/>
<stop offset="0.3090" stop-color="#8db2dd"/>
<stop offset="0.3229" stop-color="#6b8ece"/>
<stop offset="0.3403" stop-color="#5774c2"/>
<stop offset="0.3646" stop-color="#5063b9"/>
<stop offset="0.4062" stop-color="#4e5eb6"/>
<stop offset="0.4618" stop-color="#4e5eb6"/>
<stop offset="0.5104" stop-color="#5064b9"/>
<stop offset="0.5451" stop-color="#536bbd"/>
<stop offset="0.5868" stop-color="#5775c2"/>
<stop offset="0.6285" stop-color="#5570c0"/>
<stop offset="0.6701" stop-color="#5062b8"/>
<stop offset="0.7257" stop-color="#4e5db5"/>
<stop offset="0.8090" stop-color="#4d5bb4"/>
<stop offset="1.0000" stop-color="#4c58b2"/>
</linearGradient>
<linearGradient id="hg12" x1="0" y1="173.5" x2="0" y2="317.5" gradientUnits="userSpaceOnUse">
<stop offset="0.0000" stop-color="#5062b8"/>
<stop offset="0.0799" stop-color="#5165ba"/>
<stop offset="0.1354" stop-color="#5267bb"/>
<stop offset="0.1562" stop-color="#5267bb"/>
<stop offset="0.1701" stop-color="#5876c3"/>
<stop offset="0.1840" stop-color="#6e92cf"/>
<stop offset="0.1944" stop-color="#89aedb"/>
<stop offset="0.2049" stop-color="#a5c4e5"/>
<stop offset="0.2153" stop-color="#bed7ed"/>
<stop offset="0.2257" stop-color="#dbe8e6"/>
<stop offset="0.2326" stop-color="#efeed2"/>
<stop offset="0.2396" stop-color="#fde2a7"/>
<stop offset="0.2444" stop-color="#fbbb6e"/>
<stop offset="0.2486" stop-color="#f69b53"/>
<stop offset="0.2528" stop-color="#f48c48"/>
<stop offset="0.2563" stop-color="#f07d42"/>
<stop offset="0.2604" stop-color="#f6954f"/>
<stop offset="0.2646" stop-color="#f8a95f"/>
<stop offset="0.2694" stop-color="#fbb86b"/>
<stop offset="0.2743" stop-color="#fdc878"/>
<stop offset="0.2799" stop-color="#fde5ad"/>
<stop offset="0.2854" stop-color="#ededd4"/>
<stop offset="0.2917" stop-color="#cce2f1"/>
<stop offset="0.2986" stop-color="#b3cfe9"/>
<stop offset="0.3090" stop-color="#8db1dd"/>
<stop offset="0.3229" stop-color="#6a8dcd"/>
<stop offset="0.3403" stop-color="#5774c1"/>
<stop offset="0.3646" stop-color="#5063b9"/>
<stop offset="0.4062" stop-color="#4e5eb6"/>
<stop offset="0.4618" stop-color="#4e5eb6"/>
<stop offset="0.5104" stop-color="#5164b9"/>
<stop offset="0.5451" stop-color="#546dbe"/>
<stop offset="0.5868" stop-color="#5877c3"/>
<stop offset="0.6285" stop-color="#5672c1"/>
<stop offset="0.6701" stop-color="#5063b8"/>
<stop offset="0.7257" stop-color="#4e5db5"/>
<stop offset="0.8090" stop-color="#4d5bb4"/>
<stop offset="1.0000" stop-color="#4c58b2"/>
</linearGradient>
<linearGradient id="hg13" x1="0" y1="173.5" x2="0" y2="317.5" gradientUnits="userSpaceOnUse">
<stop offset="0.0000" stop-color="#4f60b7"/>
<stop offset="0.0799" stop-color="#5063b8"/>
<stop offset="0.1354" stop-color="#5165b9"/>
<stop offset="0.1562" stop-color="#5165ba"/>
<stop offset="0.1701" stop-color="#5774c2"/>
<stop offset="0.1840" stop-color="#6b8ece"/>
<stop offset="0.1944" stop-color="#86aada"/>
<stop offset="0.2049" stop-color="#a1c2e4"/>
<stop offset="0.2153" stop-color="#bed7ed"/>
<stop offset="0.2257" stop-color="#dbe8e6"/>
<stop offset="0.2326" stop-color="#efeed2"/>
<stop offset="0.2396" stop-color="#fde2a7"/>
<stop offset="0.2444" stop-color="#fbbb6e"/>
<stop offset="0.2486" stop-color="#f69b53"/>
<stop offset="0.2528" stop-color="#f48c48"/>
<stop offset="0.2563" stop-color="#f07d42"/>
<stop offset="0.2604" stop-color="#f6954f"/>
<stop offset="0.2646" stop-color="#f8a95f"/>
<stop offset="0.2694" stop-color="#fbb86b"/>
<stop offset="0.2743" stop-color="#fdc878"/>
<stop offset="0.2799" stop-color="#fde5ad"/>
<stop offset="0.2854" stop-color="#ededd4"/>
<stop offset="0.2917" stop-color="#cce2f1"/>
<stop offset="0.2986" stop-color="#b0cde8"/>
<stop offset="0.3090" stop-color="#89aedb"/>
<stop offset="0.3229" stop-color="#678acc"/>
<stop offset="0.3403" stop-color="#5671c0"/>
<stop offset="0.3646" stop-color="#4f61b8"/>
<stop offset="0.4062" stop-color="#4e5db5"/>
<stop offset="0.4618" stop-color="#4e5db5"/>
<stop offset="0.5104" stop-color="#5061b8"/>
<stop offset="0.5451" stop-color="#5269bc"/>
<stop offset="0.5868" stop-color="#5672c1"/>
<stop offset="0.6285" stop-color="#546dbe"/>
<stop offset="0.6701" stop-color="#4f60b7"/>
<stop offset="0.7257" stop-color="#4d5cb4"/>
<stop offset="0.8090" stop-color="#4d5ab4"/>
<stop offset="1.0000" stop-color="#4b57b2"/>
</linearGradient>
<linearGradient id="hg14" x1="0" y1="173.5" x2="0" y2="317.5" gradientUnits="userSpaceOnUse">
<stop offset="0.0000" stop-color="#4f60b7"/>
<stop offset="0.0799" stop-color="#5063b8"/>
<stop offset="0.1354" stop-color="#5164b9"/>
<stop offset="0.1562" stop-color="#5165ba"/>
<stop offset="0.1701" stop-color="#5774c2"/>
<stop offset="0.1840" stop-color="#6b8ece"/>
<stop offset="0.1944" stop-color="#85aada"/>
<stop offset="0.2049" stop-color="#a1c1e4"/>
<stop offset="0.2153" stop-color="#bed7ed"/>
<stop offset="0.2257" stop-color="#dbe8e6"/>
<stop offset="0.2326" stop-color="#efeed2"/>
<stop offset="0.2396" stop-color="#fde2a7"/>
<stop offset="0.2444" stop-color="#fbbb6e"/>
<stop offset="0.2486" stop-color="#f69b53"/>
<stop offset="0.2528" stop-color="#f48c48"/>
<stop offset="0.2563" stop-color="#f07d42"/>
<stop offset="0.2604" stop-color="#f6954f"/>
<stop offset="0.2646" stop-color="#f8a95f"/>
<stop offset="0.2694" stop-color="#fbb86b"/>
<stop offset="0.2743" stop-color="#fdc878"/>
<stop offset="0.2799" stop-color="#fde5ad"/>
<stop offset="0.2854" stop-color="#ededd4"/>
<stop offset="0.2917" stop-color="#cce2f1"/>
<stop offset="0.2986" stop-color="#afcce8"/>
<stop offset="0.3090" stop-color="#89aedb"/>
<stop offset="0.3229" stop-color="#6789cc"/>
<stop offset="0.3403" stop-color="#5671c0"/>
<stop offset="0.3646" stop-color="#4f61b7"/>
<stop offset="0.4062" stop-color="#4e5db5"/>
<stop offset="0.4618" stop-color="#4e5db5"/>
<stop offset="0.5104" stop-color="#5164b9"/>
<stop offset="0.5451" stop-color="#5672c1"/>
<stop offset="0.5868" stop-color="#6588cb"/>
<stop offset="0.6285" stop-color="#5b7dc6"/>
<stop offset="0.6701" stop-color="#5166ba"/>
<stop offset="0.7257" stop-color="#4d5cb5"/>
<stop offset="0.8090" stop-color="#4d5ab3"/>
<stop offset="1.0000" stop-color="#4b57b2"/>
</linearGradient>
<linearGradient id="hg15" x1="0" y1="173.5" x2="0" y2="317.5" gradientUnits="userSpaceOnUse">
<stop offset="0.0000" stop-color="#4f60b7"/>
<stop offset="0.0799" stop-color="#5063b9"/>
<stop offset="0.1354" stop-color="#5165ba"/>
<stop offset="0.1562" stop-color="#5165ba"/>
<stop offset="0.1701" stop-color="#5774c2"/>
<stop offset="0.1840" stop-color="#6b8ece"/>
<stop offset="0.1944" stop-color="#86aada"/>
<stop offset="0.2049" stop-color="#a1c2e4"/>
<stop offset="0.2153" stop-color="#bed7ed"/>
<stop offset="0.2257" stop-color="#dbe8e6"/>
<stop offset="0.2326" stop-color="#efeed2"/>
<stop offset="0.2396" stop-color="#fde2a7"/>
<stop offset="0.2444" stop-color="#fbbb6e"/>
<stop offset="0.2486" stop-color="#f69b53"/>
<stop offset="0.2528" stop-color="#f48c48"/>
<stop offset="0.2563" stop-color="#f07d42"/>
<stop offset="0.2604" stop-color="#f6954f"/>
<stop offset="0.2646" stop-color="#f8a95f"/>
<stop offset="0.2694" stop-color="#fbb86b"/>
<stop offset="0.2743" stop-color="#fdc878"/>
<stop offset="0.2799" stop-color="#fde5ad"/>
<stop offset="0.2854" stop-color="#ededd4"/>
<stop offset="0.2917" stop-color="#cce2f1"/>
<stop offset="0.2986" stop-color="#b0cde8"/>
<stop offset="0.3090" stop-color="#8aaedc"/>
<stop offset="0.3229" stop-color="#678acc"/>
<stop offset="0.3403" stop-color="#5672c0"/>
<stop offset="0.3646" stop-color="#4f61b8"/>
<stop offset="0.4062" stop-color="#4e5eb6"/>
<stop offset="0.4618" stop-color="#4e5db5"/>
<stop offset="0.5104" stop-color="#5063b8"/>
<stop offset="0.5451" stop-color="#546cbe"/>
<stop offset="0.5868" stop-color="#5979c4"/>
<stop offset="0.6285" stop-color="#5773c1"/>
<stop offset="0.6701" stop-color="#5062b8"/>
<stop offset="0.7257" stop-color="#4d5cb5"/>
<stop offset="0.8090" stop-color="#4d5ab4"/>
<stop offset="1.0000" stop-color="#4c57b2"/>
</linearGradient>
<linearGradient id="hg16" x1="0" y1="173.5" x2="0" y2="317.5" gradientUnits="userSpaceOnUse">
<stop offset="0.0000" stop-color="#4f60b7"/>
<stop offset="0.0799" stop-color="#5063b8"/>
<stop offset="0.1354" stop-color="#5164b9"/>
<stop offset="0.1562" stop-color="#5165ba"/>
<stop offset="0.1701" stop-color="#5774c2"/>
<stop offset="0.1840" stop-color="#6b8ece"/>
<stop offset="0.1944" stop-color="#85aada"/>
<stop offset="0.2049" stop-color="#a1c1e4"/>
<stop offset="0.2153" stop-color="#bed7ed"/>
<stop offset="0.2257" stop-color="#dbe8e6"/>
<stop offset="0.2326" stop-color="#efeed2"/>
<stop offset="0.2396" stop-color="#fde2a7"/>
<stop offset="0.2444" stop-color="#fbbb6e"/>
<stop offset="0.2486" stop-color="#f69b53"/>
<stop offset="0.2528" stop-color="#f48c48"/>
<stop offset="0.2563" stop-color="#f07d42"/>
<stop offset="0.2604" stop-color="#f6954f"/>
<stop offset="0.2646" stop-color="#f8a95f"/>
<stop offset="0.2694" stop-color="#fbb86b"/>
<stop offset="0.2743" stop-color="#fdc878"/>
<stop offset="0.2799" stop-color="#fde5ad"/>
<stop offset="0.2854" stop-color="#ededd4"/>
<stop offset="0.2917" stop-color="#cce2f1"/>
<stop offset="0.2986" stop-color="#afcce8"/>
<stop offset="0.3090" stop-color="#89aedb"/>
<stop offset="0.3229" stop-color="#678acc"/>
<stop offset="0.3403" stop-color="#5671c0"/>
<stop offset="0.3646" stop-color="#4f61b8"/>
<stop offset="0.4062" stop-color="#4e5db5"/>
<stop offset="0.4618" stop-color="#4e5db5"/>
<stop offset="0.5104" stop-color="#5062b8"/>
<stop offset="0.5451" stop-color="#536bbd"/>
<stop offset="0.5868" stop-color="#5876c3"/>
<stop offset="0.6285" stop-color="#5671c0"/>
<stop offset="0.6701" stop-color="#4f61b7"/>
<stop offset="0.7257" stop-color="#4d5cb5"/>
<stop offset="0.8090" stop-color="#4d5ab3"/>
<stop offset="1.0000" stop-color="#4b57b2"/>
</linearGradient>
<linearGradient id="hg17" x1="0" y1="173.5" x2="0" y2="317.5" gradientUnits="userSpaceOnUse">
<stop offset="0.0000" stop-color="#5063b9"/>
<stop offset="0.0799" stop-color="#5165ba"/>
<stop offset="0.1354" stop-color="#5267bb"/>
<stop offset="0.1562" stop-color="#5268bb"/>
<stop offset="0.1701" stop-color="#5877c3"/>
<stop offset="0.1840" stop-color="#6f92d0"/>
<stop offset="0.1944" stop-color="#8aaedc"/>
<stop offset="0.2049" stop-color="#a6c5e5"/>
<stop offset="0.2153" stop-color="#bed7ed"/>
<stop offset="0.2257" stop-color="#dbe8e6"/>
<stop offset="0.2326" stop-color="#efeed2"/>
<stop offset="0.2396" stop-color="#fde2a7"/>
<stop offset="0.2444" stop-color="#fbbb6e"/>
<stop offset="0.2486" stop-color="#f69b53"/>
<stop offset="0.2528" stop-color="#f48c48"/>
<stop offset="0.2563" stop-color="#f07d42"/>
<stop offset="0.2604" stop-color="#f6954f"/>
<stop offset="0.2646" stop-color="#f8a95f"/>
<stop offset="0.2694" stop-color="#fbb86b"/>
<stop offset="0.2743" stop-color="#fdc878"/>
<stop offset="0.2799" stop-color="#fde5ad"/>
<stop offset="0.2854" stop-color="#ededd4"/>
<stop offset="0.2917" stop-color="#cce2f1"/>
<stop offset="0.2986" stop-color="#b4d0ea"/>
<stop offset="0.3090" stop-color="#8db2dd"/>
<stop offset="0.3229" stop-color="#6b8ece"/>
<stop offset="0.3403" stop-color="#5774c2"/>
<stop offset="0.3646" stop-color="#5064b9"/>
<stop offset="0.4062" stop-color="#4e5eb6"/>
<stop offset="0.4618" stop-color="#4e5eb6"/>
<stop offset="0.5104" stop-color="#5063b9"/>
<stop offset="0.5451" stop-color="#536abc"/>
<stop offset="0.5868" stop-color="#5672c1"/>
<stop offset="0.6285" stop-color="#546ebe"/>
<stop offset="0.6701" stop-color="#4f61b7"/>
<stop offset="0.7257" stop-color="#4e5db5"/>
<stop offset="0.8090" stop-color="#4d5bb4"/>
<stop offset="1.0000" stop-color="#4c58b2"/>
</linearGradient>
<linearGradient id="hg18" x1="0" y1="173.5" x2="0" y2="317.5" gradientUnits="userSpaceOnUse">
<stop offset="0.0000" stop-color="#4f60b7"/>
<stop offset="0.0799" stop-color="#5063b8"/>
<stop offset="0.1354" stop-color="#5164b9"/>
<stop offset="0.1562" stop-color="#5165ba"/>
<stop offset="0.1701" stop-color="#5774c2"/>
<stop offset="0.1840" stop-color="#6b8ece"/>
<stop offset="0.1944" stop-color="#85aada"/>
<stop offset="0.2049" stop-color="#a1c1e4"/>
<stop offset="0.2153" stop-color="#bed7ed"/>
<stop offset="0.2257" stop-color="#dbe8e6"/>
<stop offset="0.2326" stop-color="#efeed2"/>
<stop offset="0.2396" stop-color="#fde2a7"/>
<stop offset="0.2444" stop-color="#fbbb6e"/>
<stop offset="0.2486" stop-color="#f69b53"/>
<stop offset="0.2528" stop-color="#f48c48"/>
<stop offset="0.2563" stop-color="#f07d42"/>
<stop offset="0.2604" stop-color="#f6954f"/>
<stop offset="0.2646" stop-color="#f8a95f"/>
<stop offset="0.2694" stop-color="#fbb86b"/>
<stop offset="0.2743" stop-color="#fdc878"/>
<stop offset="0.2799" stop-color="#fde5ad"/>
<stop offset="0.2854" stop-color="#ededd4"/>
<stop offset="0.2917" stop-color="#cce2f1"/>
<stop offset="0.2986" stop-color="#afcce8"/>
<stop offset="0.3090" stop-color="#89aedb"/>
<stop offset="0.3229" stop-color="#678acc"/>
<stop offset="0.3403" stop-color="#5671c0"/>
<stop offset="0.3646" stop-color="#4f61b8"/>
<stop offset="0.4062" stop-color="#4e5db5"/>
<stop offset="0.4618" stop-color="#4e5db5"/>
<stop offset="0.5104" stop-color="#5063b8"/>
<stop offset="0.5451" stop-color="#546dbe"/>
<stop offset="0.5868" stop-color="#5979c5"/>
<stop offset="0.6285" stop-color="#5774c2"/>
<stop offset="0.6701" stop-color="#5062b8"/>
<stop offset="0.7257" stop-color="#4d5cb5"/>
<stop offset="0.8090" stop-color="#4d5ab3"/>
<stop offset="1.0000" stop-color="#4b57b2"/>
</linearGradient>
<linearGradient id="hg19" x1="0" y1="173.5" x2="0" y2="317.5" gradientUnits="userSpaceOnUse">
<stop offset="0.0000" stop-color="#4f5fb7"/>
<stop offset="0.0799" stop-color="#4f61b8"/>
<stop offset="0.1354" stop-color="#5063b9"/>
<stop offset="0.1562" stop-color="#5063b9"/>
<stop offset="0.1701" stop-color="#5672c1"/>
<stop offset="0.1840" stop-color="#688bcc"/>
<stop offset="0.1944" stop-color="#83a7d8"/>
<stop offset="0.2049" stop-color="#9ebfe3"/>
<stop offset="0.2153" stop-color="#bed7ed"/>
<stop offset="0.2257" stop-color="#dbe8e6"/>
<stop offset="0.2326" stop-color="#efeed2"/>
<stop offset="0.2396" stop-color="#fde2a7"/>
<stop offset="0.2444" stop-color="#fbbb6e"/>
<stop offset="0.2486" stop-color="#f69b53"/>
<stop offset="0.2528" stop-color="#f48c48"/>
<stop offset="0.2563" stop-color="#f07d42"/>
<stop offset="0.2604" stop-color="#f6954f"/>
<stop offset="0.2646" stop-color="#f8a95f"/>
<stop offset="0.2694" stop-color="#fbb86b"/>
<stop offset="0.2743" stop-color="#fdc878"/>
<stop offset="0.2799" stop-color="#fde5ad"/>
<stop offset="0.2854" stop-color="#ededd4"/>
<stop offset="0.2917" stop-color="#cce2f1"/>
<stop offset="0.2986" stop-color="#adcae7"/>
<stop offset="0.3090" stop-color="#87abda"/>
<stop offset="0.3229" stop-color="#6487cb"/>
<stop offset="0.3403" stop-color="#5570bf"/>
<stop offset="0.3646" stop-color="#4f60b7"/>
<stop offset="0.4062" stop-color="#4e5db5"/>
<stop offset="0.4618" stop-color="#4e5db5"/>
<stop offset="0.5104" stop-color="#4f61b7"/>
<stop offset="0.5451" stop-color="#536abc"/>
<stop offset="0.5868" stop-color="#5775c2"/>
<stop offset="0.6285" stop-color="#5570c0"/>
<stop offset="0.6701" stop-color="#4f60b7"/>
<stop offset="0.7257" stop-color="#4d5bb4"/>
<stop offset="0.8090" stop-color="#4c5ab3"/>
<stop offset="1.0000" stop-color="#4b57b1"/>
</linearGradient>
<linearGradient id="hg20" x1="0" y1="173.5" x2="0" y2="317.5" gradientUnits="userSpaceOnUse">
<stop offset="0.0000" stop-color="#4f60b7"/>
<stop offset="0.0799" stop-color="#5061b8"/>
<stop offset="0.1354" stop-color="#5063b9"/>
<stop offset="0.1562" stop-color="#5064b9"/>
<stop offset="0.1701" stop-color="#5673c1"/>
<stop offset="0.1840" stop-color="#698ccd"/>
<stop offset="0.1944" stop-color="#83a8d9"/>
<stop offset="0.2049" stop-color="#9fc0e3"/>
<stop offset="0.2153" stop-color="#bed7ed"/>
<stop offset="0.2257" stop-color="#dbe8e6"/>
<stop offset="0.2326" stop-color="#efeed2"/>
<stop offset="0.2396" stop-color="#fde2a7"/>
<stop offset="0.2444" stop-color="#fbbb6e"/>
<stop offset="0.2486" stop-color="#f69b53"/>
<stop offset="0.2528" stop-color="#f48c48"/>
<stop offset="0.2563" stop-color="#f07d42"/>
<stop offset="0.2604" stop-color="#f6954f"/>
<stop offset="0.2646" stop-color="#f8a95f"/>
<stop offset="0.2694" stop-color="#fbb86b"/>
<stop offset="0.2743" stop-color="#fdc878"/>
<stop offset="0.2799" stop-color="#fde5ad"/>
<stop offset="0.2854" stop-color="#ededd4"/>
<stop offset="0.2917" stop-color="#cce2f1"/>
<stop offset="0.2986" stop-color="#adcbe7"/>
<stop offset="0.3090" stop-color="#87acda"/>
<stop offset="0.3229" stop-color="#6587cb"/>
<stop offset="0.3403" stop-color="#5570c0"/>
<stop offset="0.3646" stop-color="#4f60b7"/>
<stop offset="0.4062" stop-color="#4e5db5"/>
<stop offset="0.4618" stop-color="#4e5db5"/>
<stop offset="0.5104" stop-color="#4f61b8"/>
<stop offset="0.5451" stop-color="#536bbd"/>
<stop offset="0.5868" stop-color="#5877c3"/>
<stop offset="0.6285" stop-color="#5672c0"/>
<stop offset="0.6701" stop-color="#4f60b7"/>
<stop offset="0.7257" stop-color="#4d5bb4"/>
<stop offset="0.8090" stop-color="#4c5ab3"/>
<stop offset="1.0000" stop-color="#4b57b1"/>
</linearGradient>
<linearGradient id="hg21" x1="0" y1="173.5" x2="0" y2="317.5" gradientUnits="userSpaceOnUse">
<stop offset="0.0000" stop-color="#5062b8"/>
<stop offset="0.0799" stop-color="#5164b9"/>
<stop offset="0.1354" stop-color="#5166ba"/>
<stop offset="0.1562" stop-color="#5267bb"/>
<stop offset="0.1701" stop-color="#5776c3"/>
<stop offset="0.1840" stop-color="#6d90cf"/>
<stop offset="0.1944" stop-color="#88acdb"/>
<stop offset="0.2049" stop-color="#a4c3e4"/>
<stop offset="0.2153" stop-color="#bed7ed"/>
<stop offset="0.2257" stop-color="#dbe8e6"/>
<stop offset="0.2326" stop-color="#efeed2"/>
<stop offset="0.2396" stop-color="#fde2a7"/>
<stop offset="0.2444" stop-color="#fbbb6e"/>
<stop offset="0.2486" stop-color="#f69b53"/>
<stop offset="0.2528" stop-color="#f48c48"/>
<stop offset="0.2563" stop-color="#f07d42"/>
<stop offset="0.2604" stop-color="#f6954f"/>
<stop offset="0.2646" stop-color="#f8a95f"/>
<stop offset="0.2694" stop-color="#fbb86b"/>
<stop offset="0.2743" stop-color="#fdc878"/>
<stop offset="0.2799" stop-color="#fde5ad"/>
<stop offset="0.2854" stop-color="#ededd4"/>
<stop offset="0.2917" stop-color="#cce2f1"/>
<stop offset="0.2986" stop-color="#b2cee9"/>
<stop offset="0.3090" stop-color="#8bb0dc"/>
<stop offset="0.3229" stop-color="#698ccd"/>
<stop offset="0.3403" stop-color="#5673c1"/>
<stop offset="0.3646" stop-color="#5062b8"/>
<stop offset="0.4062" stop-color="#4e5eb6"/>
<stop offset="0.4618" stop-color="#4e5eb6"/>
<stop offset="0.5104" stop-color="#5063b9"/>
<stop offset="0.5451" stop-color="#546cbd"/>
<stop offset="0.5868" stop-color="#5877c3"/>
<stop offset="0.6285" stop-color="#5672c1"/>
<stop offset="0.6701" stop-color="#5062b8"/>
<stop offset="0.7257" stop-color="#4e5cb5"/>
<stop offset="0.8090" stop-color="#4d5bb4"/>
<stop offset="1.0000" stop-color="#4c58b2"/>
</linearGradient>
<linearGradient id="hg22" x1="0" y1="173.5" x2="0" y2="317.5" gradientUnits="userSpaceOnUse">
<stop offset="0.0000" stop-color="#5063b9"/>
<stop offset="0.0799" stop-color="#5165ba"/>
<stop offset="0.1354" stop-color="#5267bb"/>
<stop offset="0.1562" stop-color="#5268bb"/>
<stop offset="0.1701" stop-color="#5877c3"/>
<stop offset="0.1840" stop-color="#6f92d0"/>
<stop offset="0.1944" stop-color="#8aaedc"/>
<stop offset="0.2049" stop-color="#a6c5e5"/>
<stop offset="0.2153" stop-color="#bed7ed"/>
<stop offset="0.2257" stop-color="#dbe8e6"/>
<stop offset="0.2326" stop-color="#efeed2"/>
<stop offset="0.2396" stop-color="#fde2a7"/>
<stop offset="0.2444" stop-color="#fbbb6e"/>
<stop offset="0.2486" stop-color="#f69b53"/>
<stop offset="0.2528" stop-color="#f48c48"/>
<stop offset="0.2563" stop-color="#f07d42"/>
<stop offset="0.2604" stop-color="#f6954f"/>
<stop offset="0.2646" stop-color="#f8a95f"/>
<stop offset="0.2694" stop-color="#fbb86b"/>
<stop offset="0.2743" stop-color="#fdc878"/>
<stop offset="0.2799" stop-color="#fde5ad"/>
<stop offset="0.2854" stop-color="#ededd4"/>
<stop offset="0.2917" stop-color="#cce2f1"/>
<stop offset="0.2986" stop-color="#b4d0ea"/>
<stop offset="0.3090" stop-color="#8db2dd"/>
<stop offset="0.3229" stop-color="#6b8ece"/>
<stop offset="0.3403" stop-color="#5774c2"/>
<stop offset="0.3646" stop-color="#5064b9"/>
<stop offset="0.4062" stop-color="#4e5eb6"/>
<stop offset="0.4618" stop-color="#4e5eb6"/>
<stop offset="0.5104" stop-color="#5063b9"/>
<stop offset="0.5451" stop-color="#536abc"/>
<stop offset="0.5868" stop-color="#5672c1"/>
<stop offset="0.6285" stop-color="#546ebe"/>
<stop offset="0.6701" stop-color="#4f61b7"/>
<stop offset="0.7257" stop-color="#4e5db5"/>
<stop offset="0.8090" stop-color="#4d5bb4"/>
<stop offset="1.0000" stop-color="#4c58b2"/>
</linearGradient>
<linearGradient id="hg23" x1="0" y1="173.5" x2="0" y2="317.5" gradientUnits="userSpaceOnUse">
<stop offset="0.0000" stop-color="#4f61b7"/>
<stop offset="0.0799" stop-color="#5063b9"/>
<stop offset="0.1354" stop-color="#5165ba"/>
<stop offset="0.1562" stop-color="#5166ba"/>
<stop offset="0.1701" stop-color="#5775c2"/>
<stop offset="0.1840" stop-color="#6c8fce"/>
<stop offset="0.1944" stop-color="#86abda"/>
<stop offset="0.2049" stop-color="#a2c2e4"/>
<stop offset="0.2153" stop-color="#bed7ed"/>
<stop offset="0.2257" stop-color="#dbe8e6"/>
<stop offset="0.2326" stop-color="#efeed2"/>
<stop offset="0.2396" stop-color="#fde2a7"/>
<stop offset="0.2444" stop-color="#fbbb6e"/>
<stop offset="0.2486" stop-color="#f69b53"/>
<stop offset="0.2528" stop-color="#f48c48"/>
<stop offset="0.2563" stop-color="#f07d42"/>
<stop offset="0.2604" stop-color="#f6954f"/>
<stop offset="0.2646" stop-color="#f8a95f"/>
<stop offset="0.2694" stop-color="#fbb86b"/>
<stop offset="0.2743" stop-color="#fdc878"/>
<stop offset="0.2799" stop-color="#fde5ad"/>
<stop offset="0.2854" stop-color="#ededd4"/>
<stop offset="0.2917" stop-color="#cce2f1"/>
<stop offset="0.2986" stop-color="#b0cde8"/>
<stop offset="0.3090" stop-color="#8aafdc"/>
<stop offset="0.3229" stop-color="#688acc"/>
<stop offset="0.3403" stop-color="#5672c1"/>
<stop offset="0.3646" stop-color="#5061b8"/>
<stop offset="0.4062" stop-color="#4e5eb6"/>
<stop offset="0.4618" stop-color="#4e5db5"/>
<stop offset="0.5104" stop-color="#5062b8"/>
<stop offset="0.5451" stop-color="#5369bc"/>
<stop offset="0.5868" stop-color="#5673c1"/>
<stop offset="0.6285" stop-color="#556ebf"/>
<stop offset="0.6701" stop-color="#4f60b7"/>
<stop offset="0.7257" stop-color="#4d5cb5"/>
<stop offset="0.8090" stop-color="#4d5ab4"/>
<stop offset="1.0000" stop-color="#4c57b2"/>
</linearGradient>
<linearGradient id="hg24" x1="0" y1="173.5" x2="0" y2="317.5" gradientUnits="userSpaceOnUse">
<stop offset="0.0000" stop-color="#4f61b7"/>
<stop offset="0.0799" stop-color="#5063b9"/>
<stop offset="0.1354" stop-color="#5165ba"/>
<stop offset="0.1562" stop-color="#5166ba"/>
<stop offset="0.1701" stop-color="#5774c2"/>
<stop offset="0.1840" stop-color="#6c8fce"/>
<stop offset="0.1944" stop-color="#86abda"/>
<stop offset="0.2049" stop-color="#a2c2e4"/>
<stop offset="0.2153" stop-color="#bed7ed"/>
<stop offset="0.2257" stop-color="#dbe8e6"/>
<stop offset="0.2326" stop-color="#efeed2"/>
<stop offset="0.2396" stop-color="#fde2a7"/>
<stop offset="0.2444" stop-color="#fbbb6e"/>
<stop offset="0.2486" stop-color="#f69b53"/>
<stop offset="0.2528" stop-color="#f48c48"/>
<stop offset="0.2563" stop-color="#f07d42"/>
<stop offset="0.2604" stop-color="#f6954f"/>
<stop offset="0.2646" stop-color="#f8a95f"/>
<stop offset="0.2694" stop-color="#fbb86b"/>
<stop offset="0.2743" stop-color="#fdc878"/>
<stop offset="0.2799" stop-color="#fde5ad"/>
<stop offset="0.2854" stop-color="#ededd4"/>
<stop offset="0.2917" stop-color="#cce2f1"/>
<stop offset="0.2986" stop-color="#b0cde8"/>
<stop offset="0.3090" stop-color="#8aafdc"/>
<stop offset="0.3229" stop-color="#688acc"/>
<stop offset="0.3403" stop-color="#5672c1"/>
<stop offset="0.3646" stop-color="#5061b8"/>
<stop offset="0.4062" stop-color="#4e5eb6"/>
<stop offset="0.4618" stop-color="#4e5db5"/>
<stop offset="0.5104" stop-color="#5062b8"/>
<stop offset="0.5451" stop-color="#536abc"/>
<stop offset="0.5868" stop-color="#5775c2"/>
<stop offset="0.6285" stop-color="#5570bf"/>
<stop offset="0.6701" stop-color="#4f60b7"/>
<stop offset="0.7257" stop-color="#4d5cb5"/>
<stop offset="0.8090" stop-color="#4d5ab4"/>
<stop offset="1.0000" stop-color="#4c57b2"/>
</linearGradient>
<linearGradient id="hg25" x1="0" y1="173.5" x2="0" y2="317.5" gradientUnits="userSpaceOnUse">
<stop offset="0.0000" stop-color="#4f61b7"/>
<stop offset="0.0799" stop-color="#5063b9"/>
<stop offset="0.1354" stop-color="#5165ba"/>
<stop offset="0.1562" stop-color="#5166ba"/>
<stop offset="0.1701" stop-color="#5775c2"/>
<stop offset="0.1840" stop-color="#6c8fce"/>
<stop offset="0.1944" stop-color="#87abda"/>
<stop offset="0.2049" stop-color="#a2c2e4"/>
<stop offset="0.2153" stop-color="#bed7ed"/>
<stop offset="0.2257" stop-color="#dbe8e6"/>
<stop offset="0.2326" stop-color="#efeed2"/>
<stop offset="0.2396" stop-color="#fde2a7"/>
<stop offset="0.2444" stop-color="#fbbb6e"/>
<stop offset="0.2486" stop-color="#f69b53"/>
<stop offset="0.2528" stop-color="#f48c48"/>
<stop offset="0.2563" stop-color="#f07d42"/>
<stop offset="0.2604" stop-color="#f6954f"/>
<stop offset="0.2646" stop-color="#f8a95f"/>
<stop offset="0.2694" stop-color="#fbb86b"/>
<stop offset="0.2743" stop-color="#fdc878"/>
<stop offset="0.2799" stop-color="#fde5ad"/>
<stop offset="0.2854" stop-color="#ededd4"/>
<stop offset="0.2917" stop-color="#cce2f1"/>
<stop offset="0.2986" stop-color="#b1cde9"/>
<stop offset="0.3090" stop-color="#8aafdc"/>
<stop offset="0.3229" stop-color="#688bcc"/>
<stop offset="0.3403" stop-color="#5672c1"/>
<stop offset="0.3646" stop-color="#5062b8"/>
<stop offset="0.4062" stop-color="#4e5eb6"/>
<stop offset="0.4618" stop-color="#4e5db5"/>
<stop offset="0.5104" stop-color="#5062b8"/>
<stop offset="0.5451" stop-color="#5268bb"/>
<stop offset="0.5868" stop-color="#5671c0"/>
<stop offset="0.6285" stop-color="#546cbe"/>
<stop offset="0.6701" stop-color="#4f60b7"/>
<stop offset="0.7257" stop-color="#4d5cb5"/>
<stop offset="0.8090" stop-color="#4d5ab4"/>
<stop offset="1.0000" stop-color="#4c57b2"/>
</linearGradient>
<linearGradient id="hg26" x1="0" y1="173.5" x2="0" y2="317.5" gradientUnits="userSpaceOnUse">
<stop offset="0.0000" stop-color="#5062b8"/>
<stop offset="0.0799" stop-color="#5165b9"/>
<stop offset="0.1354" stop-color="#5166ba"/>
<stop offset="0.1562" stop-color="#5570bf"/>
<stop offset="0.1701" stop-color="#5f82c8"/>
<stop offset="0.1840" stop-color="#83a7d8"/>
<stop offset="0.1944" stop-color="#9ebfe3"/>
<stop offset="0.2049" stop-color="#bad5ec"/>
<stop offset="0.2153" stop-color="#d5e6ec"/>
<stop offset="0.2257" stop-color="#f3efce"/>
<stop offset="0.2326" stop-color="#fdd794"/>
<stop offset="0.2396" stop-color="#ee7840"/>
<stop offset="0.2444" stop-color="#de422e"/>
<stop offset="0.2486" stop-color="#ce302c"/>
<stop offset="0.2528" stop-color="#ea6a3b"/>
<stop offset="0.2563" stop-color="#f69750"/>
<stop offset="0.2604" stop-color="#fcbf71"/>
<stop offset="0.2646" stop-color="#fdd48e"/>
<stop offset="0.2694" stop-color="#fdf2c4"/>
<stop offset="0.2743" stop-color="#dde8e4"/>
<stop offset="0.2799" stop-color="#bed7ed"/>
<stop offset="0.2854" stop-color="#a5c4e5"/>
<stop offset="0.2917" stop-color="#8aafdc"/>
<stop offset="0.2986" stop-color="#7599d2"/>
<stop offset="0.3090" stop-color="#5a7bc6"/>
<stop offset="0.3229" stop-color="#546cbe"/>
<stop offset="0.3403" stop-color="#5062b8"/>
<stop offset="0.3646" stop-color="#4e5fb6"/>
<stop offset="0.4062" stop-color="#4e5db5"/>
<stop offset="0.4618" stop-color="#4f5fb7"/>
<stop offset="0.5104" stop-color="#5061b8"/>
<stop offset="0.5451" stop-color="#536bbd"/>
<stop offset="0.5868" stop-color="#5877c3"/>
<stop offset="0.6285" stop-color="#5671c0"/>
<stop offset="0.6701" stop-color="#4f60b7"/>
<stop offset="0.7257" stop-color="#4d5bb4"/>
<stop offset="0.8090" stop-color="#4c59b3"/>
<stop offset="1.0000" stop-color="#4b56b1"/>
</linearGradient>
<linearGradient id="hg27" x1="0" y1="173.5" x2="0" y2="317.5" gradientUnits="userSpaceOnUse">
<stop offset="0.0000" stop-color="#4f60b7"/>
<stop offset="0.0799" stop-color="#5062b8"/>
<stop offset="0.1354" stop-color="#5164b9"/>
<stop offset="0.1562" stop-color="#546dbe"/>
<stop offset="0.1701" stop-color="#5c7ec7"/>
<stop offset="0.1840" stop-color="#7fa3d7"/>
<stop offset="0.1944" stop-color="#9abce1"/>
<stop offset="0.2049" stop-color="#b6d1ea"/>
<stop offset="0.2153" stop-color="#d5e6ec"/>
<stop offset="0.2257" stop-color="#f3efce"/>
<stop offset="0.2326" stop-color="#fdd794"/>
<stop offset="0.2396" stop-color="#ee7840"/>
<stop offset="0.2444" stop-color="#de422e"/>
<stop offset="0.2486" stop-color="#ce302c"/>
<stop offset="0.2528" stop-color="#ea6a3b"/>
<stop offset="0.2563" stop-color="#f69750"/>
<stop offset="0.2604" stop-color="#fcbf71"/>
<stop offset="0.2646" stop-color="#fdd48e"/>
<stop offset="0.2694" stop-color="#fdf2c4"/>
<stop offset="0.2743" stop-color="#dde8e4"/>
<stop offset="0.2799" stop-color="#bed7ed"/>
<stop offset="0.2854" stop-color="#a1c1e4"/>
<stop offset="0.2917" stop-color="#86abda"/>
<stop offset="0.2986" stop-color="#7295d1"/>
<stop offset="0.3090" stop-color="#5979c4"/>
<stop offset="0.3229" stop-color="#536abc"/>
<stop offset="0.3403" stop-color="#4f60b7"/>
<stop offset="0.3646" stop-color="#4e5eb6"/>
<stop offset="0.4062" stop-color="#4e5cb5"/>
<stop offset="0.4618" stop-color="#4e5fb6"/>
<stop offset="0.5104" stop-color="#4f60b7"/>
<stop offset="0.5451" stop-color="#5268bb"/>
<stop offset="0.5868" stop-color="#5773c1"/>
<stop offset="0.6285" stop-color="#546ebe"/>
<stop offset="0.6701" stop-color="#4e5fb6"/>
<stop offset="0.7257" stop-color="#4d5ab3"/>
<stop offset="0.8090" stop-color="#4c58b2"/>
<stop offset="1.0000" stop-color="#4b56b1"/>
</linearGradient>
<linearGradient id="hg28" x1="0" y1="173.5" x2="0" y2="317.5" gradientUnits="userSpaceOnUse">
<stop offset="0.0000" stop-color="#5061b8"/>
<stop offset="0.0799" stop-color="#5164b9"/>
<stop offset="0.1354" stop-color="#5166ba"/>
<stop offset="0.1562" stop-color="#556fbf"/>
<stop offset="0.1701" stop-color="#5e81c8"/>
<stop offset="0.1840" stop-color="#82a6d8"/>
<stop offset="0.1944" stop-color="#9dbfe2"/>
<stop offset="0.2049" stop-color="#b9d4eb"/>
<stop offset="0.2153" stop-color="#d5e6ec"/>
<stop offset="0.2257" stop-color="#f3efce"/>
<stop offset="0.2326" stop-color="#fdd794"/>
<stop offset="0.2396" stop-color="#ee7840"/>
<stop offset="0.2444" stop-color="#de422e"/>
<stop offset="0.2486" stop-color="#ce302c"/>
<stop offset="0.2528" stop-color="#ea6a3b"/>
<stop offset="0.2563" stop-color="#f69750"/>
<stop offset="0.2604" stop-color="#fcbf71"/>
<stop offset="0.2646" stop-color="#fdd48e"/>
<stop offset="0.2694" stop-color="#fdf2c4"/>
<stop offset="0.2743" stop-color="#dde8e4"/>
<stop offset="0.2799" stop-color="#bed7ed"/>
<stop offset="0.2854" stop-color="#a4c4e4"/>
<stop offset="0.2917" stop-color="#89aedb"/>
<stop offset="0.2986" stop-color="#7498d2"/>
<stop offset="0.3090" stop-color="#597ac5"/>
<stop offset="0.3229" stop-color="#546cbd"/>
<stop offset="0.3403" stop-color="#4f61b8"/>
<stop offset="0.3646" stop-color="#4e5eb6"/>
<stop offset="0.4062" stop-color="#4e5db5"/>
<stop offset="0.4618" stop-color="#4f5fb7"/>
<stop offset="0.5104" stop-color="#5061b8"/>
<stop offset="0.5451" stop-color="#546cbd"/>
<stop offset="0.5868" stop-color="#5979c5"/>
<stop offset="0.6285" stop-color="#5773c1"/>
<stop offset="0.6701" stop-color="#4f60b7"/>
<stop offset="0.7257" stop-color="#4d5bb4"/>
<stop offset="0.8090" stop-color="#4c58b2"/>
<stop offset="1.0000" stop-color="#4b56b1"/>
</linearGradient>
<linearGradient id="hg29" x1="0" y1="173.5" x2="0" y2="317.5" gradientUnits="userSpaceOnUse">
<stop offset="0.0000" stop-color="#4f61b8"/>
<stop offset="0.0799" stop-color="#5064b9"/>
<stop offset="0.1354" stop-color="#5165ba"/>
<stop offset="0.1562" stop-color="#556fbf"/>
<stop offset="0.1701" stop-color="#5e80c8"/>
<stop offset="0.1840" stop-color="#81a5d8"/>
<stop offset="0.1944" stop-color="#9dbee2"/>
<stop offset="0.2049" stop-color="#b9d3eb"/>
<stop offset="0.2153" stop-color="#d5e6ec"/>
<stop offset="0.2257" stop-color="#f3efce"/>
<stop offset="0.2326" stop-color="#fdd794"/>
<stop offset="0.2396" stop-color="#ee7840"/>
<stop offset="0.2444" stop-color="#de422e"/>
<stop offset="0.2486" stop-color="#ce302c"/>
<stop offset="0.2528" stop-color="#ea6a3b"/>
<stop offset="0.2563" stop-color="#f69750"/>
<stop offset="0.2604" stop-color="#fcbf71"/>
<stop offset="0.2646" stop-color="#fdd48e"/>
<stop offset="0.2694" stop-color="#fdf2c4"/>
<stop offset="0.2743" stop-color="#dde8e4"/>
<stop offset="0.2799" stop-color="#bed7ed"/>
<stop offset="0.2854" stop-color="#a3c3e4"/>
<stop offset="0.2917" stop-color="#89aedb"/>
<stop offset="0.2986" stop-color="#7497d2"/>
<stop offset="0.3090" stop-color="#597ac5"/>
<stop offset="0.3229" stop-color="#546cbd"/>
<stop offset="0.3403" stop-color="#4f61b7"/>
<stop offset="0.3646" stop-color="#4e5eb6"/>
<stop offset="0.4062" stop-color="#4e5db5"/>
<stop offset="0.4618" stop-color="#4f5fb7"/>
<stop offset="0.5104" stop-color="#5061b8"/>
<stop offset="0.5451" stop-color="#546dbe"/>
<stop offset="0.5868" stop-color="#5a7bc5"/>
<stop offset="0.6285" stop-color="#5774c2"/>
<stop offset="0.6701" stop-color="#4f60b7"/>
<stop offset="0.7257" stop-color="#4d5ab4"/>
<stop offset="0.8090" stop-color="#4c58b2"/>
<stop offset="1.0000" stop-color="#4b56b1"/>
</linearGradient>
<linearGradient id="hg30" x1="0" y1="173.5" x2="0" y2="317.5" gradientUnits="userSpaceOnUse">
<stop offset="0.0000" stop-color="#5061b8"/>
<stop offset="0.0799" stop-color="#5164b9"/>
<stop offset="0.1354" stop-color="#5166ba"/>
<stop offset="0.1562" stop-color="#556fbf"/>
<stop offset="0.1701" stop-color="#6183c9"/>
<stop offset="0.1840" stop-color="#88acdb"/>
<stop offset="0.1944" stop-color="#a8c7e6"/>
<stop offset="0.2049" stop-color="#c8dff0"/>
<stop offset="0.2153" stop-color="#e2eadf"/>
<stop offset="0.2257" stop-color="#fdf2c4"/>
<stop offset="0.2326" stop-color="#fdd188"/>
<stop offset="0.2396" stop-color="#ec713e"/>
<stop offset="0.2444" stop-color="#dc3d2c"/>
<stop offset="0.2486" stop-color="#ce302c"/>
<stop offset="0.2528" stop-color="#ea6a3b"/>
<stop offset="0.2563" stop-color="#f69750"/>
<stop offset="0.2604" stop-color="#fcbf71"/>
<stop offset="0.2646" stop-color="#fdd48e"/>
<stop offset="0.2694" stop-color="#fdf2c4"/>
<stop offset="0.2743" stop-color="#dde8e4"/>
<stop offset="0.2799" stop-color="#bed7ed"/>
<stop offset="0.2854" stop-color="#a4c4e5"/>
<stop offset="0.2917" stop-color="#89aedb"/>
<stop offset="0.2986" stop-color="#7498d2"/>
<stop offset="0.3090" stop-color="#597bc5"/>
<stop offset="0.3229" stop-color="#546cbd"/>
<stop offset="0.3403" stop-color="#4f61b8"/>
<stop offset="0.3646" stop-color="#4e5eb6"/>
<stop offset="0.4062" stop-color="#4e5db5"/>
<stop offset="0.4618" stop-color="#4f5fb7"/>
<stop offset="0.5104" stop-color="#4f60b7"/>
<stop offset="0.5451" stop-color="#5165ba"/>
<stop offset="0.5868" stop-color="#546ebe"/>
<stop offset="0.6285" stop-color="#5269bc"/>
<stop offset="0.6701" stop-color="#4e5eb6"/>
<stop offset="0.7257" stop-color="#4d5ab4"/>
<stop offset="0.8090" stop-color="#4c58b2"/>
<stop offset="1.0000" stop-color="#4b56b1"/>
</linearGradient>
<linearGradient id="hg31" x1="0" y1="173.5" x2="0" y2="317.5" gradientUnits="userSpaceOnUse">
<stop offset="0.0000" stop-color="#4f60b7"/>
<stop offset="0.0799" stop-color="#5062b8"/>
<stop offset="0.1354" stop-color="#5064b9"/>
<stop offset="0.1562" stop-color="#546ebe"/>
<stop offset="0.1701" stop-color="#5f81c8"/>
<stop offset="0.1840" stop-color="#89aedb"/>
<stop offset="0.1944" stop-color="#adcbe7"/>
<stop offset="0.2049" stop-color="#cfe4f2"/>
<stop offset="0.2153" stop-color="#ecedd5"/>
<stop offset="0.2257" stop-color="#fdebb7"/>
<stop offset="0.2326" stop-color="#fdcc7f"/>
<stop offset="0.2396" stop-color="#eb6c3c"/>
<stop offset="0.2444" stop-color="#da3b2c"/>
<stop offset="0.2486" stop-color="#ce302c"/>
<stop offset="0.2528" stop-color="#ea6a3b"/>
<stop offset="0.2563" stop-color="#f69750"/>
<stop offset="0.2604" stop-color="#fcbf71"/>
<stop offset="0.2646" stop-color="#fdd48e"/>
<stop offset="0.2694" stop-color="#fdf2c4"/>
<stop offset="0.2743" stop-color="#dde8e4"/>
<stop offset="0.2799" stop-color="#bed7ed"/>
<stop offset="0.2854" stop-color="#a0c1e3"/>
<stop offset="0.2917" stop-color="#86abda"/>
<stop offset="0.2986" stop-color="#7195d1"/>
<stop offset="0.3090" stop-color="#5979c4"/>
<stop offset="0.3229" stop-color="#536abc"/>
<stop offset="0.3403" stop-color="#4f60b7"/>
<stop offset="0.3646" stop-color="#4e5eb6"/>
<stop offset="0.4062" stop-color="#4e5cb5"/>
<stop offset="0.4618" stop-color="#4e5fb6"/>
<stop offset="0.5104" stop-color="#4f60b7"/>
<stop offset="0.5451" stop-color="#5268bb"/>
<stop offset="0.5868" stop-color="#5774c2"/>
<stop offset="0.6285" stop-color="#556ebf"/>
<stop offset="0.6701" stop-color="#4e5fb6"/>
<stop offset="0.7257" stop-color="#4d5ab3"/>
<stop offset="0.8090" stop-color="#4c58b2"/>
<stop offset="1.0000" stop-color="#4b56b1"/>
</linearGradient>
<linearGradient id="hg32" x1="0" y1="173.5" x2="0" y2="317.5" gradientUnits="userSpaceOnUse">
<stop offset="0.0000" stop-color="#4f60b7"/>
<stop offset="0.0799" stop-color="#5062b8"/>
<stop offset="0.1354" stop-color="#5064b9"/>
<stop offset="0.1562" stop-color="#546ebe"/>
<stop offset="0.1701" stop-color="#6083c9"/>
<stop offset="0.1840" stop-color="#8eb2dd"/>
<stop offset="0.1944" stop-color="#b5d1ea"/>
<stop offset="0.2049" stop-color="#d9e7e8"/>
<stop offset="0.2153" stop-color="#f6f0cb"/>
<stop offset="0.2257" stop-color="#fde4ab"/>
<stop offset="0.2326" stop-color="#fdc677"/>
<stop offset="0.2396" stop-color="#f18143"/>
<stop offset="0.2444" stop-color="#e86339"/>
<stop offset="0.2486" stop-color="#e65e37"/>
<stop offset="0.2528" stop-color="#f48d48"/>
<stop offset="0.2563" stop-color="#f8a55c"/>
<stop offset="0.2604" stop-color="#fcbf71"/>
<stop offset="0.2646" stop-color="#fdd48e"/>
<stop offset="0.2694" stop-color="#fdf2c4"/>
<stop offset="0.2743" stop-color="#dde8e4"/>
<stop offset="0.2799" stop-color="#bed7ed"/>
<stop offset="0.2854" stop-color="#a0c1e3"/>
<stop offset="0.2917" stop-color="#86abda"/>
<stop offset="0.2986" stop-color="#7195d1"/>
<stop offset="0.3090" stop-color="#5979c4"/>
<stop offset="0.3229" stop-color="#536abc"/>
<stop offset="0.3403" stop-color="#4f60b7"/>
<stop offset="0.3646" stop-color="#4e5eb6"/>
<stop offset="0.4062" stop-color="#4d5cb5"/>
<stop offset="0.4618" stop-color="#4e5eb6"/>
<stop offset="0.5104" stop-color="#4f5fb7"/>
<stop offset="0.5451" stop-color="#5165ba"/>
<stop offset="0.5868" stop-color="#556fbf"/>
<stop offset="0.6285" stop-color="#536abc"/>
<stop offset="0.6701" stop-color="#4e5eb6"/>
<stop offset="0.7257" stop-color="#4c5ab3"/>
<stop offset="0.8090" stop-color="#4c58b2"/>
<stop offset="1.0000" stop-color="#4b56b1"/>
</linearGradient>
<linearGradient id="hg33" x1="0" y1="173.5" x2="0" y2="317.5" gradientUnits="userSpaceOnUse">
<stop offset="0.0000" stop-color="#4f60b7"/>
<stop offset="0.0799" stop-color="#5063b8"/>
<stop offset="0.1354" stop-color="#5165b9"/>
<stop offset="0.1562" stop-color="#556fbf"/>
<stop offset="0.1701" stop-color="#6386ca"/>
<stop offset="0.1840" stop-color="#94b8e0"/>
<stop offset="0.1944" stop-color="#bfd8ed"/>
<stop offset="0.2049" stop-color="#e4eadd"/>
<stop offset="0.2153" stop-color="#fdf0c0"/>
<stop offset="0.2257" stop-color="#fddd9e"/>
<stop offset="0.2326" stop-color="#fcc172"/>
<stop offset="0.2396" stop-color="#f07c41"/>
<stop offset="0.2444" stop-color="#e76038"/>
<stop offset="0.2486" stop-color="#e65e37"/>
<stop offset="0.2528" stop-color="#f48d48"/>
<stop offset="0.2563" stop-color="#f8a55c"/>
<stop offset="0.2604" stop-color="#fcbf71"/>
<stop offset="0.2646" stop-color="#fdd48e"/>
<stop offset="0.2694" stop-color="#fdf2c4"/>
<stop offset="0.2743" stop-color="#dde8e4"/>
<stop offset="0.2799" stop-color="#bed7ed"/>
<stop offset="0.2854" stop-color="#a2c2e4"/>
<stop offset="0.2917" stop-color="#87acdb"/>
<stop offset="0.2986" stop-color="#7396d1"/>
<stop offset="0.3090" stop-color="#5979c5"/>
<stop offset="0.3229" stop-color="#536bbd"/>
<stop offset="0.3403" stop-color="#4f60b7"/>
<stop offset="0.3646" stop-color="#4e5eb6"/>
<stop offset="0.4062" stop-color="#4e5db5"/>
<stop offset="0.4618" stop-color="#4f5fb6"/>
<stop offset="0.5104" stop-color="#4f61b7"/>
<stop offset="0.5451" stop-color="#546dbe"/>
<stop offset="0.5868" stop-color="#5a7cc6"/>
<stop offset="0.6285" stop-color="#5775c2"/>
<stop offset="0.6701" stop-color="#4f60b7"/>
<stop offset="0.7257" stop-color="#4d5ab4"/>
<stop offset="0.8090" stop-color="#4c58b2"/>
<stop offset="1.0000" stop-color="#4b56b1"/>
</linearGradient>
<linearGradient id="hg34" x1="0" y1="173.5" x2="0" y2="317.5" gradientUnits="userSpaceOnUse">
<stop offset="0.0000" stop-color="#5063b9"/>
<stop offset="0.0799" stop-color="#5165ba"/>
<stop offset="0.1354" stop-color="#5267bb"/>
<stop offset="0.1562" stop-color="#5672c0"/>
<stop offset="0.1701" stop-color="#698ccd"/>
<stop offset="0.1840" stop-color="#9dbfe2"/>
<stop offset="0.1944" stop-color="#cce2f1"/>
<stop offset="0.2049" stop-color="#f2efcf"/>
<stop offset="0.2153" stop-color="#fde7b0"/>
<stop offset="0.2257" stop-color="#fdd692"/>
<stop offset="0.2326" stop-color="#fbbb6e"/>
<stop offset="0.2396" stop-color="#ee7740"/>
<stop offset="0.2444" stop-color="#e65d37"/>
<stop offset="0.2486" stop-color="#e65e37"/>
<stop offset="0.2528" stop-color="#f48d48"/>
<stop offset="0.2563" stop-color="#f8a55c"/>
<stop offset="0.2604" stop-color="#fcbf71"/>
<stop offset="0.2646" stop-color="#fdd48e"/>
<stop offset="0.2694" stop-color="#fdf2c4"/>
<stop offset="0.2743" stop-color="#dde8e4"/>
<stop offset="0.2799" stop-color="#bed7ed"/>
<stop offset="0.2854" stop-color="#a6c5e5"/>
<stop offset="0.2917" stop-color="#8bb0dc"/>
<stop offset="0.2986" stop-color="#779ad3"/>
<stop offset="0.3090" stop-color="#5a7cc6"/>
<stop offset="0.3229" stop-color="#546dbe"/>
<stop offset="0.3403" stop-color="#5063b8"/>
<stop offset="0.3646" stop-color="#4f5fb6"/>
<stop offset="0.4062" stop-color="#4e5db5"/>
<stop offset="0.4618" stop-color="#4f60b7"/>
<stop offset="0.5104" stop-color="#5063b9"/>
<stop offset="0.5451" stop-color="#556fbf"/>
<stop offset="0.5868" stop-color="#5d7fc7"/>
<stop offset="0.6285" stop-color="#5877c4"/>
<stop offset="0.6701" stop-color="#5062b8"/>
<stop offset="0.7257" stop-color="#4d5bb4"/>
<stop offset="0.8090" stop-color="#4c59b3"/>
<stop offset="1.0000" stop-color="#4b57b1"/>
</linearGradient>
<linearGradient id="hg35" x1="0" y1="173.5" x2="0" y2="317.5" gradientUnits="userSpaceOnUse">
<stop offset="0.0000" stop-color="#4f60b7"/>
<stop offset="0.0799" stop-color="#5063b8"/>
<stop offset="0.1354" stop-color="#5165b9"/>
<stop offset="0.1562" stop-color="#556fbf"/>
<stop offset="0.1701" stop-color="#6689cc"/>
<stop offset="0.1840" stop-color="#9ebfe3"/>
<stop offset="0.1944" stop-color="#cfe4f2"/>
<stop offset="0.2049" stop-color="#f7f0ca"/>
<stop offset="0.2153" stop-color="#fdde9f"/>
<stop offset="0.2257" stop-color="#fdd086"/>
<stop offset="0.2326" stop-color="#fab569"/>
<stop offset="0.2396" stop-color="#ed723e"/>
<stop offset="0.2444" stop-color="#e55936"/>
<stop offset="0.2486" stop-color="#e65e37"/>
<stop offset="0.2528" stop-color="#f48d48"/>
<stop offset="0.2563" stop-color="#f8a55c"/>
<stop offset="0.2604" stop-color="#fcbf71"/>
<stop offset="0.2646" stop-color="#fdd48e"/>
<stop offset="0.2694" stop-color="#fdf2c4"/>
<stop offset="0.2743" stop-color="#dde8e4"/>
<stop offset="0.2799" stop-color="#bed7ed"/>
<stop offset="0.2854" stop-color="#a2c2e4"/>
<stop offset="0.2917" stop-color="#87acdb"/>
<stop offset="0.2986" stop-color="#7396d1"/>
<stop offset="0.3090" stop-color="#5979c5"/>
<stop offset="0.3229" stop-color="#536bbd"/>
<stop offset="0.3403" stop-color="#4f60b7"/>
<stop offset="0.3646" stop-color="#4e5eb6"/>
<stop offset="0.4062" stop-color="#4e5db5"/>
<stop offset="0.4618" stop-color="#4f5fb6"/>
<stop offset="0.5104" stop-color="#4f60b7"/>
<stop offset="0.5451" stop-color="#5268bb"/>
<stop offset="0.5868" stop-color="#5673c1"/>
<stop offset="0.6285" stop-color="#546dbe"/>
<stop offset="0.6701" stop-color="#4e5fb6"/>
<stop offset="0.7257" stop-color="#4d5ab3"/>
<stop offset="0.8090" stop-color="#4c58b2"/>
<stop offset="1.0000" stop-color="#4b56b1"/>
</linearGradient>
<linearGradient id="hg36" x1="0" y1="173.5" x2="0" y2="317.5" gradientUnits="userSpaceOnUse">
<stop offset="0.0000" stop-color="#5061b8"/>
<stop offset="0.0799" stop-color="#5164b9"/>
<stop offset="0.1354" stop-color="#5166ba"/>
<stop offset="0.1562" stop-color="#5672c1"/>
<stop offset="0.1701" stop-color="#7093d0"/>
<stop offset="0.1840" stop-color="#aecce8"/>
<stop offset="0.1944" stop-color="#e0e9e1"/>
<stop offset="0.2049" stop-color="#fdecb8"/>
<stop offset="0.2153" stop-color="#fdecb9"/>
<stop offset="0.2257" stop-color="#fdecb9"/>
<stop offset="0.2326" stop-color="#fdecb9"/>
<stop offset="0.2396" stop-color="#f79c54"/>
<stop offset="0.2444" stop-color="#f7a159"/>
<stop offset="0.2486" stop-color="#fab266"/>
<stop offset="0.2528" stop-color="#fbbb6e"/>
<stop offset="0.2563" stop-color="#fcbf70"/>
<stop offset="0.2604" stop-color="#fcbf71"/>
<stop offset="0.2646" stop-color="#fdd48e"/>
<stop offset="0.2694" stop-color="#fdf2c4"/>
<stop offset="0.2743" stop-color="#dde8e4"/>
<stop offset="0.2799" stop-color="#bed7ed"/>
<stop offset="0.2854" stop-color="#a4c3e4"/>
<stop offset="0.2917" stop-color="#89aedb"/>
<stop offset="0.2986" stop-color="#7498d2"/>
<stop offset="0.3090" stop-color="#597ac5"/>
<stop offset="0.3229" stop-color="#546cbd"/>
<stop offset="0.3403" stop-color="#4f61b8"/>
<stop offset="0.3646" stop-color="#4e5eb6"/>
<stop offset="0.4062" stop-color="#4e5db5"/>
<stop offset="0.4618" stop-color="#4f5fb6"/>
<stop offset="0.5104" stop-color="#4f60b7"/>
<stop offset="0.5451" stop-color="#5166ba"/>
<stop offset="0.5868" stop-color="#556ebf"/>
<stop offset="0.6285" stop-color="#5369bc"/>
<stop offset="0.6701" stop-color="#4e5eb6"/>
<stop offset="0.7257" stop-color="#4d5ab4"/>
<stop offset="0.8090" stop-color="#4c58b2"/>
<stop offset="1.0000" stop-color="#4b56b1"/>
</linearGradient>
<linearGradient id="hg37" x1="0" y1="173.5" x2="0" y2="317.5" gradientUnits="userSpaceOnUse">
<stop offset="0.0000" stop-color="#4f60b7"/>
<stop offset="0.0799" stop-color="#5063b8"/>
<stop offset="0.1354" stop-color="#5165ba"/>
<stop offset="0.1562" stop-color="#5673c1"/>
<stop offset="0.1701" stop-color="#799cd4"/>
<stop offset="0.1840" stop-color="#c9e0f0"/>
<stop offset="0.1944" stop-color="#fdedbb"/>
<stop offset="0.2049" stop-color="#fdedbb"/>
<stop offset="0.2153" stop-color="#fdecb9"/>
<stop offset="0.2257" stop-color="#fdecb9"/>
<stop offset="0.2326" stop-color="#fdecb9"/>
<stop offset="0.2396" stop-color="#f48d48"/>
<stop offset="0.2444" stop-color="#f69751"/>
<stop offset="0.2486" stop-color="#fab266"/>
<stop offset="0.2528" stop-color="#fbbb6e"/>
<stop offset="0.2563" stop-color="#fcbf70"/>
<stop offset="0.2604" stop-color="#fcbf71"/>
<stop offset="0.2646" stop-color="#fdd48e"/>
<stop offset="0.2694" stop-color="#fdf2c4"/>
<stop offset="0.2743" stop-color="#dde8e4"/>
<stop offset="0.2799" stop-color="#bed7ed"/>
<stop offset="0.2854" stop-color="#a1c2e4"/>
<stop offset="0.2917" stop-color="#87acda"/>
<stop offset="0.2986" stop-color="#7296d1"/>
<stop offset="0.3090" stop-color="#5979c4"/>
<stop offset="0.3229" stop-color="#536bbd"/>
<stop offset="0.3403" stop-color="#4f60b7"/>
<stop offset="0.3646" stop-color="#4e5eb6"/>
<stop offset="0.4062" stop-color="#4e5cb5"/>
<stop offset="0.4618" stop-color="#4e5fb6"/>
<stop offset="0.5104" stop-color="#4f5fb6"/>
<stop offset="0.5451" stop-color="#5064b9"/>
<stop offset="0.5868" stop-color="#536bbd"/>
<stop offset="0.6285" stop-color="#5267ba"/>
<stop offset="0.6701" stop-color="#4e5eb6"/>
<stop offset="0.7257" stop-color="#4d5ab3"/>
<stop offset="0.8090" stop-color="#4c58b2"/>
<stop offset="1.0000" stop-color="#4b56b1"/>
</linearGradient>
<linearGradient id="hg38" x1="0" y1="173.5" x2="0" y2="317.5" gradientUnits="userSpaceOnUse">
<stop offset="0.0000" stop-color="#4f60b7"/>
<stop offset="0.0799" stop-color="#5062b8"/>
<stop offset="0.1354" stop-color="#5164b9"/>
<stop offset="0.1562" stop-color="#5773c1"/>
<stop offset="0.1701" stop-color="#7fa3d7"/>
<stop offset="0.1840" stop-color="#dbe8e6"/>
<stop offset="0.1944" stop-color="#fdeebd"/>
<stop offset="0.2049" stop-color="#fdeebd"/>
<stop offset="0.2153" stop-color="#fdecb9"/>
<stop offset="0.2257" stop-color="#fdecb9"/>
<stop offset="0.2326" stop-color="#fdecb9"/>
<stop offset="0.2396" stop-color="#f18043"/>
<stop offset="0.2444" stop-color="#f5904b"/>
<stop offset="0.2486" stop-color="#fab266"/>
<stop offset="0.2528" stop-color="#fbbb6e"/>
<stop offset="0.2563" stop-color="#fcbf70"/>
<stop offset="0.2604" stop-color="#fcbf71"/>
<stop offset="0.2646" stop-color="#fdd48e"/>
<stop offset="0.2694" stop-color="#fdf2c4"/>
<stop offset="0.2743" stop-color="#dde8e4"/>
<stop offset="0.2799" stop-color="#bed7ed"/>
<stop offset="0.2854" stop-color="#a0c1e3"/>
<stop offset="0.2917" stop-color="#86aada"/>
<stop offset="0.2986" stop-color="#7194d0"/>
<stop offset="0.3090" stop-color="#5978c4"/>
<stop offset="0.3229" stop-color="#536abc"/>
<stop offset="0.3403" stop-color="#4f60b7"/>
<stop offset="0.3646" stop-color="#4e5eb6"/>
<stop offset="0.4062" stop-color="#4d5cb5"/>
<stop offset="0.4618" stop-color="#4e5eb6"/>
<stop offset="0.5104" stop-color="#4f5fb7"/>
<stop offset="0.5451" stop-color="#5267bb"/>
<stop offset="0.5868" stop-color="#5773c1"/>
<stop offset="0.6285" stop-color="#546ebe"/>
<stop offset="0.6701" stop-color="#4e5eb6"/>
<stop offset="0.7257" stop-color="#4c5ab3"/>
<stop offset="0.8090" stop-color="#4c58b2"/>
<stop offset="1.0000" stop-color="#4b56b1"/>
</linearGradient>
<linearGradient id="hg39" x1="0" y1="173.5" x2="0" y2="317.5" gradientUnits="userSpaceOnUse">
<stop offset="0.0000" stop-color="#4f60b7"/>
<stop offset="0.0799" stop-color="#5062b8"/>
<stop offset="0.1354" stop-color="#5064b9"/>
<stop offset="0.1562" stop-color="#5774c1"/>
<stop offset="0.1701" stop-color="#82a6d8"/>
<stop offset="0.1840" stop-color="#e3eade"/>
<stop offset="0.1944" stop-color="#fdefbe"/>
<stop offset="0.2049" stop-color="#fdefbe"/>
<stop offset="0.2153" stop-color="#fdecb9"/>
<stop offset="0.2257" stop-color="#fdecb9"/>
<stop offset="0.2326" stop-color="#fdecb9"/>
<stop offset="0.2396" stop-color="#ef7a41"/>
<stop offset="0.2444" stop-color="#f48d49"/>
<stop offset="0.2486" stop-color="#fab266"/>
<stop offset="0.2528" stop-color="#fbbb6e"/>
<stop offset="0.2563" stop-color="#fcbf70"/>
<stop offset="0.2604" stop-color="#fcbf71"/>
<stop offset="0.2646" stop-color="#fdd48e"/>
<stop offset="0.2694" stop-color="#fdf2c4"/>
<stop offset="0.2743" stop-color="#dde8e4"/>
<stop offset="0.2799" stop-color="#bed7ed"/>
<stop offset="0.2854" stop-color="#9fc0e3"/>
<stop offset="0.2917" stop-color="#85aada"/>
<stop offset="0.2986" stop-color="#7194d0"/>
<stop offset="0.3090" stop-color="#5878c4"/>
<stop offset="0.3229" stop-color="#5369bc"/>
<stop offset="0.3403" stop-color="#4f60b7"/>
<stop offset="0.3646" stop-color="#4e5db5"/>
<stop offset="0.4062" stop-color="#4d5cb5"/>
<stop offset="0.4618" stop-color="#4e5eb6"/>
<stop offset="0.5104" stop-color="#4f5fb6"/>
<stop offset="0.5451" stop-color="#5064b9"/>
<stop offset="0.5868" stop-color="#546cbe"/>
<stop offset="0.6285" stop-color="#5267bb"/>
<stop offset="0.6701" stop-color="#4e5eb6"/>
<stop offset="0.7257" stop-color="#4c5ab3"/>
<stop offset="0.8090" stop-color="#4c58b2"/>
<stop offset="1.0000" stop-color="#4b56b1"/>
</linearGradient>
</defs>
<rect x="52.30" y="173.5" width="4.39" height="144.0" fill="url(#hg1)" shape-rendering="crispEdges"/>
<rect x="56.09" y="173.5" width="4.39" height="144.0" fill="url(#hg2)" shape-rendering="crispEdges"/>
<rect x="59.87" y="173.5" width="4.39" height="144.0" fill="url(#hg3)" shape-rendering="crispEdges"/>
<rect x="63.66" y="173.5" width="4.39" height="144.0" fill="url(#hg4)" shape-rendering="crispEdges"/>
<rect x="67.45" y="173.5" width="4.39" height="144.0" fill="url(#hg5)" shape-rendering="crispEdges"/>
<rect x="71.24" y="173.5" width="4.39" height="144.0" fill="url(#hg6)" shape-rendering="crispEdges"/>
<rect x="75.02" y="173.5" width="4.39" height="144.0" fill="url(#hg7)" shape-rendering="crispEdges"/>
<rect x="78.81" y="173.5" width="4.39" height="144.0" fill="url(#hg8)" shape-rendering="crispEdges"/>
<rect x="82.60" y="173.5" width="4.39" height="144.0" fill="url(#hg9)" shape-rendering="crispEdges"/>
<rect x="86.38" y="173.5" width="4.39" height="144.0" fill="url(#hg10)" shape-rendering="crispEdges"/>
<rect x="90.17" y="173.5" width="4.39" height="144.0" fill="url(#hg11)" shape-rendering="crispEdges"/>
<rect x="93.96" y="173.5" width="4.39" height="144.0" fill="url(#hg12)" shape-rendering="crispEdges"/>
<rect x="97.75" y="173.5" width="4.39" height="144.0" fill="url(#hg13)" shape-rendering="crispEdges"/>
<rect x="101.53" y="173.5" width="4.39" height="144.0" fill="url(#hg14)" shape-rendering="crispEdges"/>
<rect x="105.32" y="173.5" width="4.39" height="144.0" fill="url(#hg15)" shape-rendering="crispEdges"/>
<rect x="109.11" y="173.5" width="4.39" height="144.0" fill="url(#hg16)" shape-rendering="crispEdges"/>
<rect x="112.89" y="173.5" width="4.39" height="144.0" fill="url(#hg17)" shape-rendering="crispEdges"/>
<rect x="116.68" y="173.5" width="4.39" height="144.0" fill="url(#hg18)" shape-rendering="crispEdges"/>
<rect x="120.47" y="173.5" width="4.39" height="144.0" fill="url(#hg19)" shape-rendering="crispEdges"/>
<rect x="124.26" y="173.5" width="4.39" height="144.0" fill="url(#hg20)" shape-rendering="crispEdges"/>
<rect x="128.04" y="173.5" width="4.39" height="144.0" fill="url(#hg21)" shape-rendering="crispEdges"/>
<rect x="131.83" y="173.5" width="4.39" height="144.0" fill="url(#hg22)" shape-rendering="crispEdges"/>
<rect x="135.62" y="173.5" width="4.39" height="144.0" fill="url(#hg23)" shape-rendering="crispEdges"/>
<rect x="139.41" y="173.5" width="4.39" height="144.0" fill="url(#hg24)" shape-rendering="crispEdges"/>
<rect x="143.19" y="173.5" width="4.39" height="144.0" fill="url(#hg25)" shape-rendering="crispEdges"/>
<rect x="146.98" y="173.5" width="4.39" height="144.0" fill="url(#hg26)" shape-rendering="crispEdges"/>
<rect x="150.77" y="173.5" width="4.39" height="144.0" fill="url(#hg27)" shape-rendering="crispEdges"/>
<rect x="154.55" y="173.5" width="4.39" height="144.0" fill="url(#hg28)" shape-rendering="crispEdges"/>
<rect x="158.34" y="173.5" width="4.39" height="144.0" fill="url(#hg29)" shape-rendering="crispEdges"/>
<rect x="162.13" y="173.5" width="4.39" height="144.0" fill="url(#hg30)" shape-rendering="crispEdges"/>
<rect x="165.92" y="173.5" width="4.39" height="144.0" fill="url(#hg31)" shape-rendering="crispEdges"/>
<rect x="169.70" y="173.5" width="4.39" height="144.0" fill="url(#hg32)" shape-rendering="crispEdges"/>
<rect x="173.49" y="173.5" width="4.39" height="144.0" fill="url(#hg33)" shape-rendering="crispEdges"/>
<rect x="177.28" y="173.5" width="4.39" height="144.0" fill="url(#hg34)" shape-rendering="crispEdges"/>
<rect x="181.06" y="173.5" width="4.39" height="144.0" fill="url(#hg35)" shape-rendering="crispEdges"/>
<rect x="184.85" y="173.5" width="4.39" height="144.0" fill="url(#hg36)" shape-rendering="crispEdges"/>
<rect x="188.64" y="173.5" width="4.39" height="144.0" fill="url(#hg37)" shape-rendering="crispEdges"/>
<rect x="192.43" y="173.5" width="4.39" height="144.0" fill="url(#hg38)" shape-rendering="crispEdges"/>
<rect x="196.21" y="173.5" width="4.39" height="144.0" fill="url(#hg39)" shape-rendering="crispEdges"/>
<path d="M56.09 173.5V317.5M59.87 173.5V317.5M63.66 173.5V317.5M67.45 173.5V317.5M71.24 173.5V317.5M75.02 173.5V317.5M78.81 173.5V317.5M82.60 173.5V317.5M86.38 173.5V317.5M90.17 173.5V317.5M93.96 173.5V317.5M97.75 173.5V317.5M101.53 173.5V317.5M105.32 173.5V317.5M109.11 173.5V317.5M112.89 173.5V317.5M116.68 173.5V317.5M120.47 173.5V317.5M124.26 173.5V317.5M128.04 173.5V317.5M131.83 173.5V317.5M135.62 173.5V317.5M139.41 173.5V317.5M143.19 173.5V317.5M146.98 173.5V317.5M150.77 173.5V317.5M154.55 173.5V317.5M158.34 173.5V317.5M162.13 173.5V317.5M165.92 173.5V317.5M169.70 173.5V317.5M173.49 173.5V317.5M177.28 173.5V317.5M181.06 173.5V317.5M184.85 173.5V317.5M188.64 173.5V317.5M192.43 173.5V317.5M196.21 173.5V317.5" stroke="#c8d0f0" stroke-opacity="0.10" stroke-width="0.5" fill="none"/>
<text x="47.5" y="208.7" text-anchor="end" class="t">155</text>
<text x="47.5" y="228.5" text-anchor="end" class="t">217</text>
<text x="47.5" y="266.7" text-anchor="end" class="t">336</text>
<text x="47.5" y="283.3" text-anchor="end" class="t">388</text>
<text transform="translate(29.5,246) rotate(-90)" text-anchor="middle" class="t">Fragment size</text>
<rect x="52.30" y="320.50" width="3.94" height="13.20" fill="#c0143c"/>
<rect x="56.09" y="320.50" width="3.94" height="13.20" fill="#1a9cc0"/>
<rect x="59.87" y="320.50" width="3.94" height="13.20" fill="#1a50a0"/>
<rect x="63.66" y="320.50" width="3.94" height="13.20" fill="#c0143c"/>
<rect x="67.45" y="320.50" width="3.94" height="13.20" fill="#3aaa35"/>
<rect x="71.24" y="320.50" width="3.94" height="13.20" fill="#ffffff"/>
<rect x="75.02" y="320.50" width="3.94" height="13.20" fill="#1a50a0"/>
<rect x="78.81" y="320.50" width="11.51" height="13.20" fill="#c0143c"/>
<rect x="90.17" y="320.50" width="7.72" height="13.20" fill="#1a50a0"/>
<rect x="97.75" y="320.50" width="7.72" height="13.20" fill="#ffffff"/>
<rect x="105.32" y="320.50" width="3.94" height="13.20" fill="#1a9cc0"/>
<rect x="109.11" y="320.50" width="7.72" height="13.20" fill="#1a50a0"/>
<rect x="116.68" y="320.50" width="3.94" height="13.20" fill="#ffffff"/>
<rect x="120.47" y="320.50" width="11.51" height="13.20" fill="#1a50a0"/>
<rect x="131.83" y="320.50" width="3.94" height="13.20" fill="#c0143c"/>
<rect x="135.62" y="320.50" width="3.94" height="13.20" fill="#1a50a0"/>
<rect x="139.41" y="320.50" width="3.94" height="13.20" fill="#3aaa35"/>
<rect x="143.19" y="320.50" width="3.94" height="13.20" fill="#1a50a0"/>
<rect x="146.98" y="320.50" width="3.94" height="13.20" fill="#c0143c"/>
<rect x="150.77" y="320.50" width="3.94" height="13.20" fill="#1a50a0"/>
<rect x="154.55" y="320.50" width="3.94" height="13.20" fill="#3aaa35"/>
<rect x="158.34" y="320.50" width="3.94" height="13.20" fill="#ffffff"/>
<rect x="162.13" y="320.50" width="7.72" height="13.20" fill="#1a9cc0"/>
<rect x="169.70" y="320.50" width="7.72" height="13.20" fill="#1a50a0"/>
<rect x="177.28" y="320.50" width="3.94" height="13.20" fill="#c0143c"/>
<rect x="181.06" y="320.50" width="3.94" height="13.20" fill="#ffffff"/>
<rect x="184.85" y="320.50" width="3.94" height="13.20" fill="#1a50a0"/>
<rect x="188.64" y="320.50" width="3.94" height="13.20" fill="#c0143c"/>
<rect x="192.43" y="320.50" width="3.94" height="13.20" fill="#1a9cc0"/>
<rect x="196.21" y="320.50" width="3.94" height="13.20" fill="#c0143c"/>
<rect x="52.30" y="337.00" width="3.94" height="13.30" fill="#1a1a1a"/>
<rect x="56.09" y="337.00" width="7.72" height="13.30" fill="#ffffff"/>
<rect x="63.66" y="337.00" width="7.72" height="13.30" fill="#1a1a1a"/>
<rect x="71.24" y="337.00" width="3.94" height="13.30" fill="#ffffff"/>
<rect x="75.02" y="337.00" width="15.30" height="13.30" fill="#1a1a1a"/>
<rect x="90.17" y="337.00" width="7.72" height="13.30" fill="#ffffff"/>
<rect x="97.75" y="337.00" width="11.51" height="13.30" fill="#1a1a1a"/>
<rect x="109.11" y="337.00" width="7.72" height="13.30" fill="#ffffff"/>
<rect x="116.68" y="337.00" width="3.94" height="13.30" fill="#1a1a1a"/>
<rect x="120.47" y="337.00" width="11.51" height="13.30" fill="#ffffff"/>
<rect x="131.83" y="337.00" width="3.94" height="13.30" fill="#1a1a1a"/>
<rect x="135.62" y="337.00" width="11.51" height="13.30" fill="#ffffff"/>
<rect x="146.98" y="337.00" width="7.72" height="13.30" fill="#1a1a1a"/>
<rect x="154.55" y="337.00" width="3.94" height="13.30" fill="#ffffff"/>
<rect x="158.34" y="337.00" width="3.94" height="13.30" fill="#1a1a1a"/>
<rect x="162.13" y="337.00" width="3.94" height="13.30" fill="#ffffff"/>
<rect x="165.92" y="337.00" width="3.94" height="13.30" fill="#1a1a1a"/>
<rect x="169.70" y="337.00" width="7.72" height="13.30" fill="#ffffff"/>
<rect x="177.28" y="337.00" width="3.94" height="13.30" fill="#1a1a1a"/>
<rect x="181.06" y="337.00" width="7.72" height="13.30" fill="#ffffff"/>
<rect x="188.64" y="337.00" width="3.94" height="13.30" fill="#1a1a1a"/>
<rect x="192.43" y="337.00" width="3.94" height="13.30" fill="#ffffff"/>
<rect x="196.21" y="337.00" width="3.94" height="13.30" fill="#1a1a1a"/>
<text x="47.5" y="329.8" text-anchor="end" class="t">Response</text>
<text x="47.5" y="346.4" text-anchor="end" class="t">Progression</text>
<path d="M89.5 20.8L178.6 20.8M89.5 20.8L89.5 34.5M178.6 20.8L178.6 28.6M65.4 34.5L114.6 34.5M65.4 34.5L65.4 38.6M114.6 34.5L114.6 36.1M98.5 36.1L130.4 36.1M98.5 36.1L98.5 38.4M130.4 36.1L130.4 39.4M163.8 28.6L192.7 28.6M163.8 28.6L163.8 38.6M192.7 28.6L192.7 38.6M54.5 39.6L61.0 38.8M67.0 38.6L79.0 38.6M72.0 38.6L72.0 40.0M79.0 38.6L79.0 40.2M85.0 39.3L96.0 39.3M90.0 39.3L90.0 40.5M100.0 38.4L111.0 38.4M105.0 38.4L105.0 40.0M113.0 39.2L119.0 39.2M124.0 39.4L145.0 39.4M137.0 39.4L137.0 40.6M149.6 38.8L163.5 38.8M156.0 38.8L156.0 40.4M165.0 38.6L177.0 38.6M171.0 38.6L171.0 40.2M179.0 39.4L184.0 39.4M187.0 38.6L197.0 38.6M190.0 38.6L190.0 40.2M197.0 38.6L197.0 40.4" stroke="#3a3a3a" stroke-width="0.7" fill="none"/>
<path d="M54.2 40.1L58.0 40.1M54.2 40.1L54.2 41.6M58.0 40.1L58.0 41.6M61.8 39.9L65.6 39.9M61.8 39.9L61.8 41.6M65.6 39.9L65.6 41.6M69.3 39.0L69.3 41.6M73.1 39.0L73.1 41.6M76.9 40.4L80.7 40.4M76.9 40.4L76.9 41.6M80.7 40.4L80.7 41.6M84.5 39.8L88.3 39.8M84.5 39.8L84.5 41.6M88.3 39.8L88.3 41.6M92.1 39.8L95.9 39.8M92.1 39.8L92.1 41.6M95.9 39.8L95.9 41.6M99.6 40.1L103.4 40.1M99.6 40.1L99.6 41.6M103.4 40.1L103.4 41.6M107.2 39.0L107.2 41.6M111.0 39.8L114.8 39.8M111.0 39.8L111.0 41.6M114.8 39.8L114.8 41.6M118.6 40.4L122.4 40.4M118.6 40.4L118.6 41.6M122.4 40.4L122.4 41.6M126.1 39.0L126.1 41.6M129.9 40.2L133.7 40.2M129.9 40.2L129.9 41.6M133.7 40.2L133.7 41.6M137.5 39.7L141.3 39.7M137.5 39.7L137.5 41.6M141.3 39.7L141.3 41.6M145.1 39.0L145.1 41.6M148.9 40.3L152.7 40.3M148.9 40.3L148.9 41.6M152.7 40.3L152.7 41.6M156.4 40.0L164.0 40.0M156.4 40.0L156.4 41.6M164.0 40.0L164.0 41.6M167.8 40.2L171.6 40.2M167.8 40.2L167.8 41.6M171.6 40.2L171.6 41.6M175.4 40.0L179.2 40.0M175.4 40.0L175.4 41.6M179.2 40.0L179.2 41.6M183.0 39.0L183.0 41.6M186.7 40.4L190.5 40.4M186.7 40.4L186.7 41.6M190.5 40.4L190.5 41.6M194.3 39.6L198.1 39.6M194.3 39.6L194.3 41.6M198.1 39.6L198.1 41.6" stroke="#3a3a3a" stroke-width="0.55" fill="none"/>
<defs><linearGradient id="lgfd" x1="0" x2="1" y1="0" y2="0"><stop offset="0" stop-color="#3c3c9c"/><stop offset="0.12" stop-color="#4a5cb6"/><stop offset="0.3" stop-color="#8fb4de"/><stop offset="0.45" stop-color="#e4f0f0"/><stop offset="0.55" stop-color="#fde8a8"/><stop offset="0.68" stop-color="#f8a050"/><stop offset="0.8" stop-color="#e0402c"/><stop offset="1" stop-color="#ae1038"/></linearGradient><linearGradient id="lgct" x1="0" x2="0" y1="0" y2="1"><stop offset="0" stop-color="#b2122e"/><stop offset="0.22" stop-color="#d24a50"/><stop offset="0.5" stop-color="#f8f0f2"/><stop offset="0.75" stop-color="#5c7cc0"/><stop offset="1" stop-color="#14478f"/></linearGradient><linearGradient id="lgage" x1="0" x2="0" y1="0" y2="1"><stop offset="0" stop-color="#b2122e"/><stop offset="0.25" stop-color="#d85860"/><stop offset="0.5" stop-color="#f8f0f2"/><stop offset="0.78" stop-color="#6080c0"/><stop offset="1" stop-color="#14478f"/></linearGradient><linearGradient id="lgpb" x1="0" x2="0" y1="0" y2="1"><stop offset="0" stop-color="#dc5c68"/><stop offset="0.5" stop-color="#efa8a8"/><stop offset="1" stop-color="#fbf0f0"/></linearGradient></defs>
<text x="10.6" y="368.2" class="t" >Fragment density</text>
<text x="10.9" y="379.3" class="s" >−2</text>
<text x="17.7" y="379.3" class="s" >0</text>
<text x="26.3" y="379.3" class="s" >2</text>
<text x="33.7" y="379.3" class="s" >4</text>
<text x="40.7" y="379.3" class="s" >6</text>
<text x="47.9" y="379.3" class="s" >8</text>
<rect x="13" y="380.6" width="38" height="6.2" rx="1.6" fill="url(#lgfd)"/>
<text x="10.8" y="402.0" class="t" >ctDNA</text>
<text x="38" y="402.0" class="t" >MIPI</text>
<rect x="11.6" y="404.6" width="6.2" height="32" rx="1.3" fill="url(#lgct)"/>
<text x="19.6" y="408.09999999999997" class="s" >6</text>
<text x="19.6" y="415.09999999999997" class="s" >4</text>
<text x="19.6" y="422.79999999999995" class="s" >2</text>
<text x="19.6" y="430.4" class="s" >0</text>
<text x="19.6" y="437.79999999999995" class="s" >−2</text>
<rect x="38" y="405.8" width="5.2" height="5.2" fill="#1f9aa8"/>
<text x="47" y="410.8" class="s" >1</text>
<rect x="38" y="411.8" width="5.2" height="5.2" fill="#f9a58a"/>
<text x="47" y="416.8" class="s" >2</text>
<rect x="38" y="417.8" width="5.2" height="5.2" fill="#be1436"/>
<text x="47" y="422.8" class="s" >3</text>
<text x="69.6" y="368.2" class="t" font-style="italic">TP53</text>
<rect x="70.8" y="376.1" width="4.6" height="4.8" fill="#15509a"/>
<text x="77.2" y="381.0" class="s" >Yes</text>
<text x="77.2" y="387.2" class="s" >No</text>
<text x="69.2" y="401.4" class="t" >Age</text>
<rect x="68.8" y="403.6" width="5.8" height="25.6" rx="1.3" fill="url(#lgage)"/>
<text x="76" y="407.59999999999997" class="s" >90</text>
<text x="76" y="415.0" class="s" >80</text>
<text x="76" y="422.9" class="s" >70</text>
<text x="76" y="430.7" class="s" >60</text>
<text x="92.5" y="368.2" class="t" >LDH</text>
<rect x="93.2" y="376.1" width="4.6" height="4.8" fill="#ec1a18"/>
<text x="100" y="381.0" class="s" >Yes</text>
<text x="100" y="387.4" class="s" >No</text>
<text x="92.5" y="395.6" class="t" >ASCT</text>
<rect x="93.2" y="398.2" width="4.6" height="4.6" fill="#9a5fb0"/>
<text x="100" y="402.9" class="s" >Yes</text>
<text x="100" y="409.2" class="s" >No</text>
<text x="92.5" y="417.0" class="t" >Ibrutinib</text>
<rect x="93.2" y="420.0" width="4.6" height="4.6" fill="#3aaa35"/>
<text x="100" y="424.8" class="s" >Yes</text>
<text x="100" y="431.2" class="s" >No</text>
<text x="123.7" y="368.2" class="t" >PB flow %</text>
<rect x="124.6" y="375.4" width="5" height="28.4" rx="1.2" fill="url(#lgpb)"/>
<rect x="123.8" y="405.6" width="6.4" height="1.2" fill="#14478f"/>
<text x="131.4" y="377.79999999999995" class="s" >80</text>
<text x="131.4" y="385.59999999999997" class="s" >60</text>
<text x="131.4" y="393.2" class="s" >40</text>
<text x="131.4" y="400.59999999999997" class="s" >20</text>
<text x="131.4" y="408.59999999999997" class="s" >0</text>
<text x="162.5" y="368.2" class="t" >End of study</text>
<rect x="163.2" y="376.2" width="4.8" height="4.8" fill="#c0143c"/>
<text x="170.5" y="381.09999999999997" class="s" >PD</text>
<rect x="163.2" y="381.9" width="4.8" height="4.8" fill="#1a8cb0"/>
<text x="170.5" y="386.79999999999995" class="s" >CR</text>
<rect x="163.2" y="387.6" width="4.8" height="4.8" fill="#1a50a0"/>
<text x="170.5" y="392.5" class="s" >MRD−</text>
<text x="170.5" y="402.4" class="s" >Neg−Stop</text>
<rect x="163.2" y="406.3" width="4.8" height="4.8" fill="#3aaa35"/>
<text x="170.5" y="410.7" class="s" >Toxicity</text>
<text x="170.5" y="417.4" class="s" >other</text>
<text x="162.5" y="429.6" class="t" >Progression</text>
<rect x="163.2" y="432.0" width="4.8" height="4.8" fill="#1a1a1a"/>
<text x="170.5" y="436.6" class="s" >Yes</text>
<text x="170.5" y="442.9" class="s" >No</text>
<text x="6.6" y="15.7" class="b">A</text><text x="222.6" y="16.1" class="b">B</text><text x="222.6" y="336.2" class="b">C</text><text x="375.8" y="335.8" class="b">D</text>
<path d="M249.8 22L249.8 133L356 133M247.20000000000002 25.2L249.8 25.2M247.20000000000002 45.8L249.8 45.8M247.20000000000002 66.2L249.8 66.2M247.20000000000002 86.8L249.8 86.8M247.20000000000002 107.4L249.8 107.4M247.20000000000002 127.7L249.8 127.7M271.3 133L271.3 135.4M286.7 133L286.7 135.4M316.5 133L316.5 135.4M329.8 133L329.8 135.4" stroke="#1a1a1a" stroke-width="1.0" fill="none"/>
<text x="244.0" y="27.65" text-anchor="end" class="s">2.5</text>
<text x="244.0" y="48.25" text-anchor="end" class="s">2.0</text>
<text x="244.0" y="68.65" text-anchor="end" class="s">1.5</text>
<text x="244.0" y="89.25" text-anchor="end" class="s">1.0</text>
<text x="244.0" y="109.85000000000001" text-anchor="end" class="s">0.5</text>
<text x="244.0" y="130.15" text-anchor="end" class="s">0.0</text>
<text transform="translate(273.1,142.20000000000002) rotate(-45)" text-anchor="end" class="s" style="font-size:7.1px">155</text>
<text transform="translate(288.5,142.20000000000002) rotate(-45)" text-anchor="end" class="s" style="font-size:7.1px">217</text>
<text transform="translate(318.3,142.20000000000002) rotate(-45)" text-anchor="end" class="s" style="font-size:7.1px">336</text>
<text transform="translate(331.6,142.20000000000002) rotate(-45)" text-anchor="end" class="s" style="font-size:7.1px">388</text>
<path d="M254.36 127.28L254.88 127.10L255.61 126.87L256.48 126.59L257.39 126.26L258.27 125.86L259.04 125.41L259.70 124.92L260.33 124.40L260.94 123.82L261.50 123.15L262.04 122.36L262.54 121.43L263.00 120.35L263.41 119.15L263.79 117.82L264.15 116.39L264.51 114.86L264.88 113.25L265.27 111.58L265.66 109.87L266.05 108.06L266.44 106.10L266.83 103.95L267.22 101.55L267.62 98.86L268.03 95.92L268.44 92.78L268.83 89.51L269.21 86.17L269.56 82.84L269.88 79.49L270.17 76.08L270.44 72.60L270.70 69.06L270.95 65.45L271.20 61.78L271.45 57.88L271.70 53.73L271.94 49.50L272.18 45.41L272.40 41.64L272.60 38.39L272.79 35.52L272.95 32.85L273.10 30.50L273.24 28.60L273.39 27.29L273.54 26.70L273.69 26.90L273.83 27.82L273.98 29.33L274.13 31.29L274.29 33.57L274.47 36.05L274.68 38.83L274.89 42.03L275.12 45.56L275.36 49.31L275.61 53.19L275.88 57.11L276.16 61.15L276.45 65.42L276.75 69.82L277.07 74.26L277.40 78.63L277.75 82.84L278.11 87.03L278.49 91.33L278.89 95.56L279.29 99.56L279.69 103.17L280.09 106.23L280.48 108.64L280.87 110.52L281.26 112.00L281.65 113.25L282.04 114.39L282.43 115.58L282.80 116.79L283.16 117.90L283.52 118.90L283.90 119.82L284.31 120.66L284.77 121.43L285.28 122.12L285.85 122.71L286.45 123.22L287.06 123.67L287.68 124.08L288.27 124.47L288.86 124.84L289.44 125.17L290.03 125.45L290.61 125.70L291.20 125.92L291.78 126.11L292.35 126.28L292.91 126.41L293.46 126.52L294.04 126.59L294.64 126.61L295.29 126.58L296.00 126.49L296.77 126.35L297.56 126.15L298.37 125.93L299.18 125.68L299.97 125.41L300.76 125.11L301.57 124.77L302.38 124.40L303.18 124.02L303.94 123.65L304.65 123.30L305.31 122.97L305.93 122.62L306.52 122.28L307.08 121.96L307.63 121.67L308.16 121.43L308.66 121.22L309.14 121.02L309.59 120.85L310.04 120.73L310.49 120.69L310.96 120.73L311.45 120.90L311.94 121.17L312.44 121.52L312.95 121.90L313.47 122.27L314.01 122.60L314.55 122.89L315.10 123.18L315.66 123.46L316.24 123.74L316.86 124.00L317.51 124.24L318.20 124.46L318.90 124.67L319.63 124.87L320.42 125.05L321.26 125.23L322.19 125.41L323.20 125.58L324.27 125.76L325.41 125.92L326.61 126.08L327.88 126.22L329.21 126.35L330.59 126.45L332.03 126.54L333.52 126.61L335.10 126.67L336.78 126.74L338.57 126.81L340.66 126.90L343.07 126.99L345.58 127.08L347.97 127.16L349.99 127.23L351.43 127.28" stroke="#2a9fd4" stroke-width="1.15" fill="none" stroke-linejoin="round" stroke-linecap="round" />
<path d="M254.36 127.01L254.74 127.16L255.28 126.70L255.92 126.25L256.60 126.76L257.27 125.95L257.87 126.11L258.41 125.07L258.94 124.67L259.46 124.44L259.96 123.99L260.45 123.63L260.91 122.68L261.35 121.77L261.76 120.89L262.16 120.53L262.54 118.88L262.90 117.45L263.25 116.55L263.56 115.80L263.84 113.79L264.11 112.30L264.36 110.46L264.62 108.65L264.88 107.67L265.15 105.62L265.42 104.04L265.69 102.12L265.96 99.73L266.23 97.99L266.52 96.80L266.83 95.89L267.15 95.02L267.49 94.27L267.81 93.38L268.12 93.20L268.39 92.54L268.63 91.56L268.83 90.31L269.02 88.93L269.20 87.74L269.37 86.55L269.56 85.43L269.76 83.14L269.95 81.11L270.15 78.84L270.34 76.42L270.54 73.70L270.73 70.31L270.93 68.25L271.13 65.79L271.33 62.46L271.53 59.57L271.72 57.51L271.90 55.08L272.07 52.87L272.23 51.14L272.38 50.02L272.53 49.01L272.68 47.81L272.84 47.99L272.99 47.56L273.14 48.58L273.29 48.60L273.44 50.88L273.60 52.23L273.77 53.70L273.95 55.83L274.13 58.77L274.31 62.17L274.51 66.59L274.72 69.79L274.94 73.46L275.18 77.27L275.43 80.26L275.69 84.75L275.96 88.12L276.26 91.26L276.58 94.20L276.93 97.97L277.31 101.02L277.70 103.96L278.11 106.15L278.52 109.06L278.92 111.32L279.31 112.42L279.70 114.00L280.09 115.62L280.48 115.45L280.87 116.60L281.26 118.26L281.63 118.78L281.99 119.22L282.35 119.80L282.73 120.36L283.14 120.87L283.60 121.67L284.11 122.37L284.68 122.32L285.28 122.23L285.89 122.74L286.51 122.74L287.11 123.43L287.69 122.34L288.27 123.21L288.86 123.16L289.44 122.84L290.03 123.34L290.61 123.27L291.20 123.57L291.78 122.98L292.37 122.66L292.95 123.38L293.54 123.10L294.12 123.10L294.71 122.15L295.29 122.06L295.88 122.19L296.46 121.28L297.05 120.66L297.63 120.25L298.22 119.57L298.80 119.07L299.39 118.71L299.97 118.36L300.56 117.79L301.14 117.75L301.73 117.00L302.33 116.97L302.92 116.03L303.51 116.33L304.09 115.60L304.65 115.65L305.20 115.21L305.75 114.76L306.29 114.56L306.80 114.32L307.27 114.74L307.69 114.65L308.04 114.00L308.31 114.05L308.55 113.98L308.78 114.11L309.03 114.23L309.33 114.22L309.68 114.78L310.06 114.32L310.45 115.46L310.86 115.50L311.27 115.98L311.67 115.80L312.04 116.91L312.40 117.85L312.76 118.39L313.14 118.54L313.55 119.86L314.01 120.25L314.51 119.88L315.05 120.58L315.61 121.57L316.22 122.68L316.85 122.14L317.51 123.24L318.20 123.41L318.90 123.79L319.63 124.20L320.42 124.54L321.26 124.28L322.19 125.17L323.20 125.87L324.27 125.30L325.41 125.65L326.61 125.61L327.88 125.97L329.21 125.85L330.59 126.25L332.03 126.82L333.52 126.56L335.10 127.34L336.78 126.97L338.57 126.95L340.66 127.03L343.07 127.43L345.58 127.01L347.97 127.22L349.99 127.12L351.43 127.31" stroke="#bd0f38" stroke-width="1.35" fill="none" stroke-linejoin="round" stroke-linecap="round" />
<text transform="translate(228.8,77) rotate(-90) scale(0.75,1)" text-anchor="middle" font-size="8.6" font-weight="normal" fill="#231f20" stroke="#231f20" stroke-width="0.28">Frequency %</text>
<text x="259.6" y="161.9" class="t" >Fragment class</text>
<path d="M260.4 170.8H268" stroke="#c0103a" stroke-width="1"/><path d="M304.2 170.8H312" stroke="#2a9fd4" stroke-width="1"/>
<text x="270.5" y="173.2" class="s" >Mutated</text>
<text x="314.2" y="173.2" class="s" >Reference</text>
<path d="M404.6 45.5L404.6 133L510.8 133M402.0 47L404.6 47M402.0 69.5L404.6 69.5M402.0 91.7L404.6 91.7M402.0 114.2L404.6 114.2M425.5 133L425.5 135.4M441.2 133L441.2 135.4M471.0 133L471.0 135.4M484.3 133L484.3 135.4" stroke="#1a1a1a" stroke-width="1.0" fill="none"/>
<text x="398.8" y="49.45" text-anchor="end" class="s">0.25</text>
<text x="398.8" y="71.95" text-anchor="end" class="s">0.00</text>
<text x="398.8" y="94.15" text-anchor="end" class="s">−0.25</text>
<text x="398.8" y="116.65" text-anchor="end" class="s">−0.50</text>
<text transform="translate(427.3,142.20000000000002) rotate(-45)" text-anchor="end" class="s" style="font-size:7.1px">155</text>
<text transform="translate(443.0,142.20000000000002) rotate(-45)" text-anchor="end" class="s" style="font-size:7.1px">217</text>
<text transform="translate(472.8,142.20000000000002) rotate(-45)" text-anchor="end" class="s" style="font-size:7.1px">336</text>
<text transform="translate(486.1,142.20000000000002) rotate(-45)" text-anchor="end" class="s" style="font-size:7.1px">388</text>
<path d="M409.23 69.79L409.57 69.68L410.05 69.26L410.62 69.37L411.21 69.64L411.79 69.31L412.31 68.76L412.76 69.24L413.19 68.26L413.60 67.85L413.99 67.79L414.38 67.63L414.77 66.70L415.15 65.96L415.51 65.21L415.87 65.15L416.22 63.89L416.57 63.10L416.92 60.64L417.29 60.25L417.66 58.56L418.04 57.66L418.40 55.72L418.75 54.88L419.08 53.09L419.37 51.37L419.64 51.04L419.88 50.49L420.13 49.98L420.37 49.06L420.62 49.56L420.87 49.09L421.13 49.75L421.38 50.24L421.64 50.17L421.90 50.90L422.15 51.72L422.41 52.56L422.67 53.06L422.92 55.19L423.18 56.77L423.44 57.70L423.69 60.18L423.95 60.84L424.21 62.83L424.46 65.56L424.72 66.57L424.97 68.99L425.23 71.00L425.49 73.73L425.74 76.60L426.00 81.17L426.26 84.34L426.51 88.76L426.77 92.35L427.03 96.34L427.29 101.57L427.56 105.60L427.82 109.52L428.07 113.85L428.31 117.01L428.53 118.63L428.75 122.05L428.96 121.12L429.16 122.58L429.35 124.30L429.54 125.14L429.71 126.38L429.87 126.33L430.02 127.90L430.17 127.74L430.31 128.46L430.46 128.78L430.61 127.90L430.76 127.89L430.90 126.49L431.05 124.07L431.21 122.88L431.38 121.60L431.56 119.14L431.75 117.76L431.94 114.27L432.15 112.16L432.37 109.33L432.62 108.34L432.88 105.02L433.16 104.30L433.46 101.69L433.78 99.47L434.11 96.65L434.46 95.47L434.84 93.19L435.24 91.52L435.65 90.36L436.08 87.72L436.51 84.30L436.92 82.84L437.34 81.53L437.75 80.67L438.17 79.23L438.59 77.88L438.99 75.44L439.38 75.07L439.75 74.58L440.09 73.93L440.42 73.82L440.76 72.51L441.13 71.21L441.54 71.61L442.00 71.18L442.50 70.18L443.02 68.87L443.56 68.65L444.09 67.62L444.62 67.85L445.13 67.45L445.64 67.34L446.15 67.29L446.67 65.36L447.18 65.67L447.69 64.51L448.21 63.54L448.72 63.45L449.23 64.02L449.74 62.62L450.26 62.87L450.77 62.57L451.28 61.90L451.79 60.98L452.31 60.08L452.82 60.13L453.33 59.21L453.85 57.91L454.36 57.70L454.87 57.49L455.38 58.01L455.90 57.57L456.41 56.81L456.92 56.48L457.44 56.47L457.95 54.77L458.46 53.92L458.97 54.24L459.49 53.77L460.00 53.29L460.52 53.66L461.05 54.01L461.58 55.70L462.10 54.91L462.60 55.33L463.08 56.37L463.53 56.76L463.95 57.12L464.37 57.97L464.76 59.06L465.15 59.11L465.54 61.03L465.90 61.02L466.25 62.85L466.58 63.13L466.92 63.63L467.28 63.68L467.69 64.71L468.13 65.69L468.59 66.14L469.08 66.85L469.60 67.02L470.16 68.20L470.77 67.41L471.45 68.09L472.19 68.11L472.98 69.32L473.79 68.04L474.60 68.25L475.38 68.23L476.14 69.39L476.87 69.37L477.60 69.32L478.35 70.50L479.14 69.56L480.00 69.27L480.90 68.96L481.82 68.89L482.79 70.42L483.82 69.42L484.93 69.10L486.15 69.06L487.49 68.93L488.92 68.96L490.44 68.77L492.03 68.40L493.69 68.51L495.38 69.72L497.29 69.21L499.44 68.90L501.65 68.86L503.74 68.59L505.51 69.59L506.77 69.31" stroke="#bd0f38" stroke-width="1.3" fill="none" stroke-linejoin="round" stroke-linecap="round" />
<text transform="translate(375.4,89) rotate(-90) scale(0.77,1)" text-anchor="middle" font-size="8.6" font-weight="normal" fill="#231f20" stroke="#231f20" stroke-width="0.28">Enrichment</text>
<path d="M249.8 184.2L249.8 271L356 271M247.20000000000002 198L249.8 198M247.20000000000002 223L249.8 223M247.20000000000002 248L249.8 248M271.3 271L271.3 273.4M286.7 271L286.7 273.4M316.5 271L316.5 273.4M329.8 271L329.8 273.4" stroke="#1a1a1a" stroke-width="1.0" fill="none"/>
<text x="244.0" y="200.45" text-anchor="end" class="s">0.4</text>
<text x="244.0" y="225.45" text-anchor="end" class="s">0.3</text>
<text x="244.0" y="250.45" text-anchor="end" class="s">0.2</text>
<text transform="translate(273.1,280.2) rotate(-45)" text-anchor="end" class="s" style="font-size:7.1px">155</text>
<text transform="translate(288.5,280.2) rotate(-45)" text-anchor="end" class="s" style="font-size:7.1px">217</text>
<text transform="translate(318.3,280.2) rotate(-45)" text-anchor="end" class="s" style="font-size:7.1px">336</text>
<text transform="translate(331.6,280.2) rotate(-45)" text-anchor="end" class="s" style="font-size:7.1px">388</text>
<path d="M254.38 222.24L254.88 221.76L255.38 231.12L255.88 214.17L256.38 225.22L256.88 213.11L257.38 230.36L257.88 224.78L258.38 230.06L258.88 219.57L259.38 223.53L259.88 219.31L260.38 216.30L260.88 220.04L261.38 212.44L261.88 216.37L262.38 220.54L262.88 217.72L263.38 216.60L263.88 227.16L264.38 221.88L264.88 222.02L265.38 225.97L265.88 226.56L266.38 229.03L266.88 231.25L267.38 236.37L267.88 235.82L268.38 238.05L268.88 240.67L269.38 244.23L269.88 243.60L270.38 245.08L270.88 250.31L271.38 247.98L271.88 250.97L272.38 253.76L272.88 256.96L273.38 255.43L273.88 255.55L274.38 259.67L274.88 259.85L275.38 261.11L275.88 262.90L276.38 263.57L276.88 264.38L277.38 264.33L277.88 266.40L278.38 266.98L278.88 265.90L279.38 265.62L279.88 266.78L280.38 266.51L280.88 264.89L281.38 264.94L281.88 265.58L282.38 263.48L282.88 262.07L283.38 261.22L283.88 259.48L284.38 257.86L284.88 254.21L285.38 255.72L285.88 252.02L286.38 248.59L286.88 247.83L287.38 244.53L287.88 241.53L288.38 239.77L288.88 238.06L289.38 233.39L289.88 231.31L290.38 228.78L290.88 222.64L291.38 220.19L291.88 218.54L292.38 213.13L292.88 211.63L293.38 210.39L293.88 207.57L294.38 204.81L294.88 200.35L295.38 202.83L295.88 199.49L296.38 198.36L296.88 196.84L297.38 192.97L297.88 192.34L298.38 191.98L298.88 196.44L299.38 192.60L299.88 193.96L300.38 194.59L300.88 196.83L301.38 197.66L301.88 198.27L302.38 196.62L302.88 194.44L303.38 201.74L303.88 203.41L304.38 206.70L304.88 205.90L305.38 206.57L305.88 209.93L306.38 207.89L306.88 210.32L307.38 211.88L307.88 215.71L308.38 220.46L308.88 219.57L309.38 221.77L309.88 221.68L310.38 223.29L310.88 223.50L311.38 225.28L311.88 222.83L312.38 226.39L312.88 227.56L313.38 232.70L313.88 233.65L314.38 235.81L314.88 237.85L315.38 235.23L315.88 239.16L316.38 242.20L316.88 238.98L317.38 242.39L317.88 240.45L318.38 237.84L318.88 242.67L319.38 241.03L319.88 243.95L320.38 243.08L320.88 245.68L321.38 239.79L321.88 251.52L322.38 250.17L322.88 246.09L323.38 245.04L323.88 247.98L324.38 250.22L324.88 249.91L325.38 250.17L325.88 243.47L326.38 245.58L326.88 252.28L327.38 248.43L327.88 242.31L328.38 243.03L328.88 239.73L329.38 239.12L329.88 243.72L330.38 237.11L330.88 238.94L331.38 233.57L331.88 225.75L332.38 226.02L332.88 233.45L333.38 220.06L333.88 216.13L334.38 223.05L334.88 215.91L335.38 213.36L335.88 218.76L336.38 200.18L336.88 210.07L337.38 200.02L337.88 196.20L338.38 198.35L338.88 209.74L339.38 200.60L339.88 188.95L340.38 192.98L340.88 209.61L341.38 206.26L341.88 192.71L342.38 216.42L342.88 198.94L343.38 194.37L343.88 202.25L344.38 210.36L344.88 215.90L345.38 213.05L345.88 204.24L346.38 204.37L346.88 199.27L347.38 209.65L347.88 206.92L348.38 213.74L348.88 204.56L349.38 211.86L349.88 212.49L350.38 214.47L350.88 219.18L351.38 225.63L351.88 230.12" stroke="#bd0f38" stroke-width="1.25" fill="none" stroke-linejoin="round" stroke-linecap="round" />
<text transform="translate(228.4,227.3) rotate(-90) scale(0.75,1)" text-anchor="middle" font-size="8.6" font-weight="normal" fill="#231f20" stroke="#231f20" stroke-width="0.28">Variant allele fraction</text>
<text transform="translate(303.3,300.6) scale(0.7,1)" text-anchor="middle" font-size="8.6" font-weight="normal" fill="#231f20" stroke="#231f20" stroke-width="0.28">Fragment size</text>
<path d="M404.6 183.6L404.6 271L510.8 271M402.0 202.7L404.6 202.7M402.0 229.5L404.6 229.5M402.0 256.2L404.6 256.2M425.5 271L425.5 273.4M441.2 271L441.2 273.4M471.0 271L471.0 273.4M484.3 271L484.3 273.4" stroke="#1a1a1a" stroke-width="1.0" fill="none"/>
<text x="398.8" y="205.14999999999998" text-anchor="end" class="s">0.5</text>
<text x="398.8" y="231.95" text-anchor="end" class="s">0.0</text>
<text x="398.8" y="258.65" text-anchor="end" class="s">−0.5</text>
<text transform="translate(427.3,280.2) rotate(-45)" text-anchor="end" class="s" style="font-size:7.1px">155</text>
<text transform="translate(443.0,280.2) rotate(-45)" text-anchor="end" class="s" style="font-size:7.1px">217</text>
<text transform="translate(472.8,280.2) rotate(-45)" text-anchor="end" class="s" style="font-size:7.1px">336</text>
<text transform="translate(486.1,280.2) rotate(-45)" text-anchor="end" class="s" style="font-size:7.1px">388</text>
<path d="M410.15 235.92L410.54 234.82L411.08 233.24L411.70 231.42L412.34 229.57L412.92 227.92L413.40 226.53L413.83 225.24L414.26 223.98L414.76 222.65L415.38 221.15L416.18 219.33L417.11 217.23L418.09 215.11L419.08 213.26L420.00 211.92L420.87 211.30L421.73 211.20L422.56 211.36L423.33 211.49L424.00 211.31L424.56 210.54L425.02 209.37L425.43 208.22L425.79 207.50L426.15 207.62L426.50 208.33L426.81 209.36L427.11 211.09L427.39 213.87L427.69 218.08L427.99 224.70L428.28 233.50L428.57 242.99L428.88 251.67L429.23 258.08L429.59 261.87L429.96 264.04L430.36 265.08L430.83 265.50L431.38 265.77L432.03 265.79L432.75 265.22L433.54 264.24L434.42 263.03L435.38 261.77L436.54 260.40L437.88 258.80L439.26 257.06L440.53 255.25L441.54 253.46L442.22 251.97L442.67 250.72L443.00 249.30L443.31 247.27L443.69 244.23L444.16 239.66L444.63 233.85L445.11 227.55L445.62 221.53L446.15 216.54L446.73 212.71L447.34 209.52L447.97 206.81L448.61 204.38L449.23 202.08L449.83 199.92L450.42 198.02L451.01 196.34L451.63 194.84L452.31 193.46L453.05 192.13L453.86 190.88L454.69 189.84L455.51 189.11L456.31 188.85L457.09 189.06L457.87 189.66L458.63 190.62L459.35 191.90L460.00 193.46L460.58 195.38L461.09 197.68L461.56 200.26L462.01 202.99L462.46 205.77L462.89 208.56L463.27 211.44L463.66 214.45L464.09 217.67L464.62 221.15L465.25 225.28L465.97 230.01L466.73 234.77L467.52 238.99L468.31 242.08L469.10 243.82L469.93 244.60L470.76 244.75L471.56 244.62L472.31 244.54L472.95 244.41L473.50 243.99L474.04 243.46L474.65 242.97L475.38 242.69L476.31 242.72L477.38 242.94L478.51 243.21L479.61 243.38L480.62 243.31L481.48 242.96L482.27 242.45L483.03 241.79L483.80 241.04L484.62 240.23L485.50 239.41L486.42 238.56L487.36 237.59L488.30 236.44L489.23 235.00L490.18 232.95L491.15 230.35L492.11 227.70L493.02 225.49L493.85 224.23L494.56 224.02L495.19 224.53L495.77 225.60L496.33 227.09L496.92 228.85L497.51 231.15L498.08 234.09L498.66 237.26L499.29 240.27L500.00 242.69L500.90 244.51L501.96 246.00L503.03 247.20L503.96 248.13L504.62 248.85" stroke="#9a86cc" stroke-width="1.15" fill="none" stroke-linejoin="round" stroke-linecap="round" />
<path d="M410.15 251.92L410.43 251.60L410.82 251.21L411.28 250.67L411.78 249.90L412.31 248.85L412.86 247.37L413.47 245.52L414.11 243.49L414.75 241.46L415.38 239.62L416.00 237.95L416.62 236.35L417.23 234.82L417.85 233.34L418.46 231.92L419.09 230.62L419.72 229.42L420.35 228.27L420.96 227.07L421.54 225.77L422.08 224.40L422.58 223.02L423.07 221.56L423.54 219.94L424.00 218.08L424.46 215.69L424.91 212.82L425.35 209.92L425.77 207.42L426.15 205.77L426.51 204.75L426.83 204.06L427.13 204.03L427.41 205.01L427.69 207.31L427.95 211.63L428.18 217.74L428.40 224.62L428.64 231.23L428.92 236.54L429.23 240.46L429.56 243.70L429.91 246.36L430.31 248.55L430.77 250.38L431.25 251.74L431.73 252.54L432.29 252.97L432.97 253.22L433.85 253.46L435.04 253.73L436.52 253.90L438.08 253.94L439.52 253.81L440.62 253.46L441.29 253.06L441.69 252.61L441.94 251.91L442.15 250.73L442.46 248.85L442.86 245.97L443.26 242.24L443.67 238.10L444.12 234.00L444.62 230.38L445.17 227.17L445.78 224.07L446.42 221.19L447.06 218.64L447.69 216.54L448.28 215.10L448.85 214.25L449.43 213.66L450.06 212.99L450.77 211.92L451.61 210.35L452.55 208.49L453.53 206.50L454.50 204.51L455.38 202.69L456.20 200.81L456.99 198.77L457.73 196.90L458.43 195.53L459.08 195.00L459.64 195.38L460.12 196.45L460.57 198.10L461.03 200.22L461.54 202.69L462.11 205.72L462.72 209.38L463.36 213.36L463.99 217.39L464.62 221.15L465.23 224.89L465.85 228.80L466.46 232.53L467.08 235.74L467.69 238.08L468.30 239.34L468.89 239.76L469.49 239.64L470.11 239.29L470.77 239.00L471.46 238.64L472.19 237.99L472.93 237.29L473.69 236.73L474.46 236.54L475.23 236.82L476.01 237.44L476.80 238.23L477.62 239.01L478.46 239.62L479.35 240.07L480.26 240.49L481.20 240.83L482.14 241.07L483.08 241.15L484.02 241.12L485.00 240.98L485.96 240.71L486.87 240.27L487.69 239.62L488.41 238.68L489.03 237.49L489.61 236.14L490.18 234.77L490.77 233.46L491.38 232.08L492.00 230.56L492.62 229.10L493.23 227.95L493.85 227.31L494.46 227.21L495.08 227.50L495.69 228.16L496.31 229.13L496.92 230.38L497.54 232.17L498.15 234.51L498.77 237.03L499.38 239.37L500.00 241.15L500.63 242.24L501.28 242.86L501.91 243.26L502.52 243.64L503.08 244.23L503.60 245.13L504.11 246.19L504.57 247.26L504.95 248.19L505.23 248.85" stroke="#1f4f9c" stroke-width="1.2" fill="none" stroke-linejoin="round" stroke-linecap="round" />
<path d="M410.15 225.77L410.87 224.28L411.87 222.16L413.04 219.71L414.25 217.23L415.38 215.00L416.45 212.87L417.54 210.64L418.61 208.55L419.65 206.84L420.62 205.77L421.52 205.42L422.38 205.63L423.19 206.26L423.93 207.18L424.62 208.23L425.22 209.18L425.76 210.13L426.23 211.43L426.67 213.44L427.08 216.54L427.45 221.27L427.79 227.39L428.09 234.07L428.36 240.47L428.62 245.77L428.83 249.88L429.01 253.36L429.18 256.33L429.34 258.89L429.54 261.15L429.74 263.12L429.92 264.72L430.13 265.95L430.40 266.82L430.77 267.31L431.21 267.38L431.69 267.04L432.26 266.35L432.96 265.39L433.85 264.23L435.03 262.78L436.49 260.98L438.04 258.99L439.48 256.94L440.62 255.00L441.37 253.50L441.88 252.34L442.25 251.01L442.61 248.99L443.08 245.77L443.65 240.75L444.26 234.27L444.89 227.23L445.53 220.51L446.15 215.00L446.77 210.82L447.38 207.37L448.00 204.48L448.62 201.95L449.23 199.62L449.83 197.54L450.42 195.84L451.01 194.41L451.63 193.14L452.31 191.92L453.08 190.70L453.93 189.56L454.80 188.56L455.61 187.79L456.31 187.31L456.84 187.07L457.26 187.04L457.62 187.27L458.00 187.85L458.46 188.85L459.02 190.24L459.63 191.97L460.26 194.09L460.91 196.62L461.54 199.62L462.15 203.26L462.77 207.53L463.38 212.13L464.00 216.77L464.62 221.15L465.23 225.52L465.85 230.08L466.46 234.45L467.08 238.26L467.69 241.15L468.28 242.92L468.85 243.80L469.43 244.10L470.06 244.14L470.77 244.23L471.59 244.32L472.50 244.21L473.46 243.96L474.44 243.64L475.38 243.31L476.31 242.96L477.23 242.53L478.15 242.07L479.08 241.60L480.00 241.15L480.92 240.78L481.85 240.45L482.77 240.11L483.69 239.65L484.62 239.00L485.56 238.14L486.54 237.13L487.50 235.99L488.41 234.76L489.23 233.46L489.97 231.99L490.65 230.32L491.26 228.62L491.82 227.05L492.31 225.77L492.69 224.74L492.96 223.84L493.19 223.15L493.46 222.74L493.85 222.69L494.36 222.98L494.97 223.54L495.62 224.43L496.28 225.67L496.92 227.31L497.54 229.66L498.15 232.70L498.77 235.95L499.38 238.93L500.00 241.15L500.63 242.46L501.28 243.16L501.91 243.52L502.52 243.79L503.08 244.23L503.60 244.90L504.11 245.61L504.57 246.30L504.95 246.89L505.23 247.31" stroke="#f0a22c" stroke-width="1.2" fill="none" stroke-linejoin="round" stroke-linecap="round" />
<text transform="translate(377.6,227.3) rotate(-90) scale(0.75,1)" text-anchor="middle" font-size="8.6" font-weight="normal" fill="#231f20" stroke="#231f20" stroke-width="0.28">Correlation</text>
<text transform="translate(455.4,300.6) scale(0.7,1)" text-anchor="middle" font-size="8.6" font-weight="normal" fill="#231f20" stroke="#231f20" stroke-width="0.28">Fragment size</text>
<path d="M298 310H305.2" stroke="#f0a22c" stroke-width="1"/><path d="M352 310H359.4" stroke="#9a86cc" stroke-width="1"/><path d="M413.6 310H421" stroke="#1f4f9c" stroke-width="1"/>
<text x="308.6" y="312.3" class="s" >Mean VAF</text>
<text x="362.6" y="312.3" class="s" >ctDNA conc.</text>
<text x="424.2" y="312.3" class="s" >cfDNA conc.</text>
<path d="M249.3 342L249.3 451.9L356.5 451.9M246.70000000000002 348.3L249.3 348.3M246.70000000000002 367.7L249.3 367.7M246.70000000000002 387L249.3 387M246.70000000000002 406.2L249.3 406.2M246.70000000000002 425.5L249.3 425.5M269.8 451.9L269.8 454.29999999999995M300.8 451.9L300.8 454.29999999999995M332 451.9L332 454.29999999999995" stroke="#1a1a1a" stroke-width="1.0" fill="none"/>
<text x="243.5" y="350.75" text-anchor="end" class="s">0.7</text>
<text x="243.5" y="370.15" text-anchor="end" class="s">0.6</text>
<text x="243.5" y="389.45" text-anchor="end" class="s">0.5</text>
<text x="243.5" y="408.65" text-anchor="end" class="s">0.4</text>
<text x="243.5" y="427.95" text-anchor="end" class="s">0.3</text>
<text x="269.8" y="463.4" text-anchor="middle" class="s">0.4</text>
<text x="300.8" y="463.4" text-anchor="middle" class="s">0.5</text>
<text x="332" y="463.4" text-anchor="middle" class="s">0.6</text>
<path d="M254.4 439.6L303 396.4L352 347.2L352 356.4L303 398.8L254.4 446.6Z" fill="#f4b4b4" opacity="0.75"/>
<path d="M254.4 443L352 351.7" stroke="#b80f2a" stroke-width="1.55"/>
<circle cx="255.0" cy="426.8" r="1.5" fill="#111"/>
<circle cx="254.4" cy="436.3" r="1.5" fill="#111"/>
<circle cx="256.5" cy="436.9" r="1.5" fill="#111"/>
<circle cx="264.2" cy="438.5" r="1.5" fill="#111"/>
<circle cx="265.2" cy="436.3" r="1.5" fill="#111"/>
<circle cx="266.1" cy="433.8" r="1.5" fill="#111"/>
<circle cx="265.2" cy="425.5" r="1.5" fill="#111"/>
<circle cx="265.8" cy="429.2" r="1.5" fill="#111"/>
<circle cx="268.8" cy="430.2" r="1.5" fill="#111"/>
<circle cx="271.3" cy="426.2" r="1.5" fill="#111"/>
<circle cx="272.8" cy="432.3" r="1.5" fill="#111"/>
<circle cx="274.1" cy="427.1" r="1.5" fill="#111"/>
<circle cx="275.0" cy="421.5" r="1.5" fill="#111"/>
<circle cx="275.6" cy="425.2" r="1.5" fill="#111"/>
<circle cx="276.5" cy="427.7" r="1.5" fill="#111"/>
<circle cx="279.0" cy="427.1" r="1.5" fill="#111"/>
<circle cx="275.3" cy="412.3" r="1.5" fill="#111"/>
<circle cx="281.2" cy="420.0" r="1.5" fill="#111"/>
<circle cx="282.1" cy="413.2" r="1.5" fill="#111"/>
<circle cx="284.2" cy="413.2" r="1.5" fill="#111"/>
<circle cx="283.9" cy="425.2" r="1.5" fill="#111"/>
<circle cx="284.8" cy="424.0" r="1.5" fill="#111"/>
<circle cx="292.5" cy="400.0" r="1.5" fill="#111"/>
<circle cx="292.8" cy="407.7" r="1.5" fill="#111"/>
<circle cx="293.8" cy="410.8" r="1.5" fill="#111"/>
<circle cx="306.7" cy="405.5" r="1.5" fill="#111"/>
<circle cx="306.7" cy="411.1" r="1.5" fill="#111"/>
<circle cx="318.7" cy="377.8" r="1.5" fill="#111"/>
<circle cx="320.5" cy="375.4" r="1.5" fill="#111"/>
<circle cx="323.3" cy="376.3" r="1.5" fill="#111"/>
<circle cx="325.2" cy="374.8" r="1.5" fill="#111"/>
<circle cx="326.4" cy="372.9" r="1.5" fill="#111"/>
<circle cx="327.6" cy="361.5" r="1.5" fill="#111"/>
<circle cx="336.5" cy="351.4" r="1.5" fill="#111"/>
<circle cx="336.8" cy="373.8" r="1.5" fill="#111"/>
<circle cx="340.2" cy="356.3" r="1.5" fill="#111"/>
<circle cx="345.8" cy="370.8" r="1.5" fill="#111"/>
<circle cx="351.9" cy="348.3" r="1.5" fill="#111"/>
<text x="261.9" y="361.8" class="t" style="font-size:7.45px">rho = 0.93</text>
<text x="261.6" y="370.7" class="t" style="font-size:7.45px"><tspan font-style="italic">P</tspan> &lt; 2.2e−16</text>
<text transform="translate(302.7,475.6) scale(0.7,1)" text-anchor="middle" font-size="8.6" font-weight="normal" fill="#231f20" stroke="#231f20" stroke-width="0.28">Submononucleosome</text>
<text transform="translate(229.0,397) rotate(-90) scale(0.73,1)" text-anchor="middle" font-size="8.6" font-weight="normal" fill="#231f20" stroke="#231f20" stroke-width="0.28">Subdinucleosome</text>
<path d="M404.6 341L404.6 451.9L513 451.9M402.0 351.7L404.6 351.7M402.0 373.8L404.6 373.8M402.0 396L404.6 396M402.0 417.8L404.6 417.8M402.0 440L404.6 440M424.6 451.9L424.6 454.29999999999995M459 451.9L459 454.29999999999995M493.2 451.9L493.2 454.29999999999995" stroke="#1a1a1a" stroke-width="1.0" fill="none"/>
<text x="398.8" y="354.15" text-anchor="end" class="s">0.7</text>
<text x="398.8" y="376.25" text-anchor="end" class="s">0.6</text>
<text x="398.8" y="398.45" text-anchor="end" class="s">0.5</text>
<text x="398.8" y="420.25" text-anchor="end" class="s">0.4</text>
<text x="398.8" y="442.45" text-anchor="end" class="s">0.3</text>
<rect x="412" y="385" width="25.7" height="31.5" fill="#c8143c"/><path d="M412 409.6H437.7" stroke="#4a0a18" stroke-width="1.4"/>
<rect x="446.2" y="418.4" width="25.8" height="13.5" fill="#1a50a0"/><path d="M446.2 426.3H472" stroke="#0a2040" stroke-width="1.4"/>
<rect x="480.6" y="413.2" width="25.4" height="5.3" fill="#3aaa35"/><path d="M480.6 416H506" stroke="#0f3a10" stroke-width="1.1"/>
<path d="M424.8 359.4L459.0 419.6" stroke="#a8a040" stroke-width="0.6"/>
<path d="M424.8 364.6L459.0 431.9" stroke="#1c50a0" stroke-width="1.25"/>
<path d="M424.8 369.7L459.0 426.5" stroke="#1c50a0" stroke-width="1.25"/>
<path d="M424.8 375.9L459.0 437.3" stroke="#1c50a0" stroke-width="1.25"/>
<path d="M424.8 378.0L459.0 411.2" stroke="#6aa84a" stroke-width="0.7"/>
<path d="M424.8 382.1L459.0 441.2" stroke="#1c50a0" stroke-width="1.25"/>
<path d="M424.8 391.9L459.0 434.2" stroke="#1c50a0" stroke-width="1.25"/>
<path d="M424.8 401.2L459.0 446.5" stroke="#1c50a0" stroke-width="1.25"/>
<path d="M424.8 407.3L459.0 428.8" stroke="#1c50a0" stroke-width="1.25"/>
<path d="M424.8 409.6L459.0 437.3" stroke="#1c50a0" stroke-width="1.25"/>
<path d="M424.8 411.9L459.0 422.7" stroke="#c8143c" stroke-width="1.1"/>
<path d="M424.8 414.2L459.0 441.2" stroke="#1c50a0" stroke-width="1.25"/>
<path d="M424.8 416.5L459.0 415.8" stroke="#1c50a0" stroke-width="1.25"/>
<path d="M424.8 419.6L459.0 431.9" stroke="#1c50a0" stroke-width="1.25"/>
<path d="M424.8 421.2L459.0 407.6" stroke="#1c50a0" stroke-width="1.25"/>
<path d="M424.8 424.2L459.0 402.4" stroke="#1c50a0" stroke-width="1.25"/>
<path d="M424.8 428.1L459.0 411.2" stroke="#1c50a0" stroke-width="1.25"/>
<path d="M424.8 407.3L459.0 419.6" stroke="#c8143c" stroke-width="1.1"/>
<path d="M424.8 414.2L459.0 426.5" stroke="#1c50a0" stroke-width="1.25"/>
<path d="M424.8 421.2L459.0 446.5" stroke="#1c50a0" stroke-width="1.25"/>
<path d="M424.8 419.6L459.0 415.8" stroke="#1c50a0" stroke-width="1.25"/>
<path d="M424.8 424.2L459.0 422.7" stroke="#1c50a0" stroke-width="1.25"/>
<path d="M424.8 411.9L459.0 434.2" stroke="#1c50a0" stroke-width="1.25"/>
<path d="M424.8 416.5L459.0 428.8" stroke="#1c50a0" stroke-width="1.25"/>
<path d="M424.8 409.6L459.0 419.6" stroke="#1c50a0" stroke-width="1.25"/>
<circle cx="424.8" cy="359.4" r="1.65" fill="#f4f8f0" stroke="#10223a" stroke-width="0.95"/>
<circle cx="459.0" cy="419.6" r="1.65" fill="#28589e" stroke="#10223a" stroke-width="0.95"/>
<circle cx="424.8" cy="364.6" r="1.65" fill="#28589e" stroke="#10223a" stroke-width="0.95"/>
<circle cx="459.0" cy="431.9" r="1.65" fill="#28589e" stroke="#10223a" stroke-width="0.95"/>
<circle cx="424.8" cy="369.7" r="1.65" fill="#28589e" stroke="#10223a" stroke-width="0.95"/>
<circle cx="459.0" cy="426.5" r="1.65" fill="#28589e" stroke="#10223a" stroke-width="0.95"/>
<circle cx="424.8" cy="375.9" r="1.65" fill="#28589e" stroke="#10223a" stroke-width="0.95"/>
<circle cx="459.0" cy="437.3" r="1.65" fill="#28589e" stroke="#10223a" stroke-width="0.95"/>
<circle cx="424.8" cy="378.0" r="1.65" fill="#6aa84a" stroke="#10223a" stroke-width="0.95"/>
<circle cx="459.0" cy="411.2" r="1.65" fill="#28589e" stroke="#10223a" stroke-width="0.95"/>
<circle cx="424.8" cy="382.1" r="1.65" fill="#28589e" stroke="#10223a" stroke-width="0.95"/>
<circle cx="459.0" cy="441.2" r="1.65" fill="#28589e" stroke="#10223a" stroke-width="0.95"/>
<circle cx="424.8" cy="391.9" r="1.65" fill="#28589e" stroke="#10223a" stroke-width="0.95"/>
<circle cx="459.0" cy="434.2" r="1.65" fill="#28589e" stroke="#10223a" stroke-width="0.95"/>
<circle cx="424.8" cy="401.2" r="1.65" fill="#28589e" stroke="#10223a" stroke-width="0.95"/>
<circle cx="459.0" cy="446.5" r="1.65" fill="#28589e" stroke="#10223a" stroke-width="0.95"/>
<circle cx="424.8" cy="407.3" r="1.65" fill="#28589e" stroke="#10223a" stroke-width="0.95"/>
<circle cx="459.0" cy="428.8" r="1.65" fill="#28589e" stroke="#10223a" stroke-width="0.95"/>
<circle cx="424.8" cy="409.6" r="1.65" fill="#28589e" stroke="#10223a" stroke-width="0.95"/>
<circle cx="424.8" cy="411.9" r="1.65" fill="#c8143c" stroke="#10223a" stroke-width="0.95"/>
<circle cx="459.0" cy="422.7" r="1.65" fill="#c8143c" stroke="#10223a" stroke-width="0.95"/>
<circle cx="424.8" cy="414.2" r="1.65" fill="#28589e" stroke="#10223a" stroke-width="0.95"/>
<circle cx="424.8" cy="416.5" r="1.65" fill="#28589e" stroke="#10223a" stroke-width="0.95"/>
<circle cx="459.0" cy="415.8" r="1.65" fill="#28589e" stroke="#10223a" stroke-width="0.95"/>
<circle cx="424.8" cy="419.6" r="1.65" fill="#28589e" stroke="#10223a" stroke-width="0.95"/>
<circle cx="424.8" cy="421.2" r="1.65" fill="#28589e" stroke="#10223a" stroke-width="0.95"/>
<circle cx="459.0" cy="407.6" r="1.65" fill="#28589e" stroke="#10223a" stroke-width="0.95"/>
<circle cx="424.8" cy="424.2" r="1.65" fill="#28589e" stroke="#10223a" stroke-width="0.95"/>
<circle cx="459.0" cy="402.4" r="1.65" fill="#28589e" stroke="#10223a" stroke-width="0.95"/>
<circle cx="424.8" cy="428.1" r="1.65" fill="#28589e" stroke="#10223a" stroke-width="0.95"/>
<circle cx="493.2" cy="393.2" r="1.6" fill="#5cbc50" stroke="#1c4a1c" stroke-width="0.8"/>
<circle cx="493.2" cy="400.9" r="1.6" fill="#5cbc50" stroke="#1c4a1c" stroke-width="0.8"/>
<circle cx="493.2" cy="412.3" r="1.6" fill="#5cbc50" stroke="#1c4a1c" stroke-width="0.8"/>
<circle cx="493.2" cy="414.8" r="1.6" fill="#5cbc50" stroke="#1c4a1c" stroke-width="0.8"/>
<circle cx="493.2" cy="416.0" r="1.6" fill="#5cbc50" stroke="#1c4a1c" stroke-width="0.8"/>
<circle cx="493.2" cy="416.9" r="1.6" fill="#5cbc50" stroke="#1c4a1c" stroke-width="0.8"/>
<circle cx="493.2" cy="417.8" r="1.6" fill="#5cbc50" stroke="#1c4a1c" stroke-width="0.8"/>
<circle cx="493.2" cy="419.1" r="1.6" fill="#5cbc50" stroke="#1c4a1c" stroke-width="0.8"/>
<circle cx="493.2" cy="427.7" r="1.6" fill="#5cbc50" stroke="#1c4a1c" stroke-width="0.8"/>
<circle cx="493.2" cy="428.6" r="1.6" fill="#5cbc50" stroke="#1c4a1c" stroke-width="0.8"/>
<path d="M424.6 357.6V354.8H459V357.6M459 346.8V344H493.2V346.8" stroke="#333" stroke-width="0.6" fill="none"/>
<text x="441.6" y="352.4" text-anchor="middle" class="s">1.6e−07</text><text x="476.2" y="341.6" text-anchor="middle" class="s">0.0054</text>
<text transform="translate(427.6,461.0) rotate(-45)" text-anchor="end" class="t" style="font-size:7.1px">Pretreatment</text>
<text transform="translate(462.0,461.0) rotate(-45)" text-anchor="end" class="t" style="font-size:7.1px">Cycle 6</text>
<text transform="translate(496.2,461.0) rotate(-45)" text-anchor="end" class="t" style="font-size:7.1px">Healthy donor</text>
<text transform="translate(383.6,395.4) rotate(-90) scale(0.73,1)" text-anchor="middle" font-size="8.2" font-weight="normal" fill="#231f20" stroke="#231f20" stroke-width="0.28">Submononucleosomal enrichment</text>
<text transform="translate(458.5,504.2) scale(0.68,1)" text-anchor="middle" font-size="8.6" font-weight="bold" fill="#231f20" stroke="#231f20" stroke-width="0.28">Sample type</text>
<text x="418.5" y="515.6" class="t" >Response after six cycles</text>
<rect x="419" y="520" width="6.3" height="6.3" fill="#c8143c"/><rect x="455.4" y="520" width="6.3" height="6.3" fill="#14478f"/><rect x="481" y="520" width="6.3" height="6.3" fill="#aec88c"/>
<text x="428.4" y="526.0" class="t" >PD/SD</text>
<text x="465.2" y="526.0" class="t" >CR</text>
<text x="490.2" y="526.0" class="t" >PR</text>
<rect x="0" y="0" width="520" height="0.9" fill="#4a4a4a"/><rect x="0" y="0" width="0.9" height="534" fill="#4a4a4a"/><rect x="519.1" y="0" width="0.9" height="534" fill="#4a4a4a"/><rect x="0" y="532.6" width="520" height="1.4" fill="#3a3a3a"/>
</svg>
</body></html>
